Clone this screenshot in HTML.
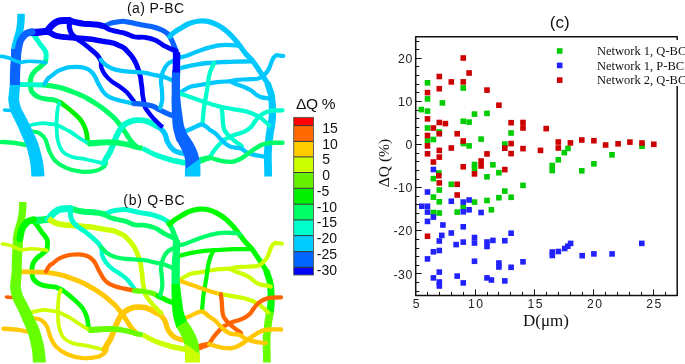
<!DOCTYPE html>
<html><head><meta charset="utf-8"><style>
html,body{margin:0;padding:0;background:#fff;}
svg{display:block;will-change:transform;}
</style></head><body>
<svg width="685" height="364" viewBox="0 0 685 364">
<rect width="685" height="364" fill="#fff"/>
<clipPath id="ca"><rect x="0" y="13.5" width="290" height="163"/></clipPath>
<clipPath id="cb"><rect x="0" y="201.9" width="290" height="160.5"/></clipPath>
<g clip-path="url(#ca)">
<g transform="translate(0,0)" fill="none" stroke-linecap="round" stroke-linejoin="round">
<path d="M4.5,110.0C5.1,110.0 6.8,110.2 8.0,110.3C9.2,110.4 11.3,110.6 12.0,110.7" stroke="#00c8ff" stroke-width="3.6"/>
<path d="M1.5,142.0C2.9,142.1 7.2,142.3 10.0,142.6C12.8,142.8 15.3,143.1 18.0,143.5C20.7,143.9 24.7,144.8 26.0,145.0" stroke="#00ff66" stroke-width="4.5"/>
<path d="M32.0,33.5C32.7,34.2 34.7,36.2 36.0,38.0C37.3,39.8 38.7,42.2 40.0,44.0C41.3,45.8 43.0,47.5 44.0,49.0C45.0,50.5 45.7,51.5 46.0,53.0C46.3,54.5 46.1,56.5 46.0,58.0C45.9,59.5 45.6,61.3 45.5,62.0" stroke="#00ffcc" stroke-width="5"/>
<path d="M45.5,62.0C44.6,62.8 41.6,65.7 40.0,67.0C38.4,68.3 37.3,68.7 36.0,70.0C34.7,71.3 32.9,73.3 32.0,75.0C31.1,76.7 30.8,78.2 30.5,80.0C30.2,81.8 30.2,84.0 30.5,86.0C30.8,88.0 30.7,90.2 32.0,92.0C33.3,93.8 35.8,95.7 38.1,96.9C40.4,98.1 43.2,98.5 46.0,99.0C48.8,99.5 52.4,99.4 55.0,100.1C57.6,100.8 60.3,102.8 61.4,103.3" stroke="#00ff66" stroke-width="5.0"/>
<path d="M60.4,102.6C61.4,103.3 64.2,105.2 66.5,107.0C68.8,108.8 71.8,111.4 74.2,113.6C76.6,115.8 79.2,118.2 80.8,120.2C82.4,122.2 83.1,123.5 84.0,125.5C84.9,127.5 85.8,129.9 86.3,132.0C86.8,134.1 87.1,136.3 87.3,138.0C87.5,139.7 87.5,141.7 87.6,142.4" stroke="#00f000" stroke-width="4.7"/>
<path d="M19.0,84.5C20.8,84.5 25.8,84.5 30.0,84.6C34.2,84.7 42.1,84.9 44.5,85.0" stroke="#00ffcc" stroke-width="4.8"/>
<path d="M44.5,85.0C46.2,85.2 51.8,85.9 55.0,86.5C58.2,87.1 60.5,87.6 63.5,88.5C66.5,89.4 69.8,90.8 73.0,92.0C76.2,93.2 79.4,94.4 82.7,96.0C86.0,97.6 89.8,99.9 93.0,101.8C96.2,103.7 99.1,105.7 101.6,107.5C104.1,109.3 105.9,110.7 108.0,112.5C110.1,114.3 112.5,116.3 114.3,118.1C116.0,119.8 117.1,121.2 118.5,123.0C119.9,124.8 121.4,126.7 122.8,128.7C124.2,130.7 125.6,132.9 127.0,135.0C128.4,137.1 129.5,139.3 131.2,141.4C132.9,143.5 136.1,146.4 137.1,147.4" stroke="#00ff66" stroke-width="5.0"/>
<path d="M59.5,103.0C59.2,103.8 58.2,106.0 57.8,108.0C57.4,110.0 57.2,112.2 57.0,115.0C56.8,117.8 56.5,120.8 56.6,125.0C56.7,129.2 56.7,135.7 57.7,140.0C58.7,144.3 60.1,148.3 62.4,151.1C64.7,153.9 67.7,155.3 71.7,156.7C75.8,158.1 81.4,158.4 86.7,159.5C92.0,160.6 100.7,162.7 103.5,163.3" stroke="#00ffcc" stroke-width="3.8"/>
<path d="M29.6,125.5C30.7,125.2 33.6,124.4 36.0,124.0C38.4,123.6 41.4,123.1 43.7,123.1C46.0,123.1 47.8,123.7 50.0,124.0C52.2,124.3 54.6,124.3 56.8,125.0C59.0,125.7 60.8,126.9 63.0,128.0C65.2,129.1 66.8,129.7 69.8,131.5C72.8,133.3 78.0,137.1 81.0,139.0C84.0,140.9 86.5,142.1 87.6,142.7" stroke="#00ffcc" stroke-width="3.8"/>
<path d="M32.5,131.5C33.8,131.8 37.8,132.0 40.0,133.4C42.2,134.8 44.1,137.0 45.6,139.9C47.1,142.8 47.8,147.7 49.3,151.1C50.8,154.5 52.1,157.6 54.9,160.4C57.7,163.2 61.7,166.0 66.1,167.9C70.4,169.8 76.0,171.2 81.0,171.7C86.0,172.2 92.2,171.5 96.0,170.7C99.8,169.9 101.8,168.3 103.5,167.0C105.2,165.7 105.6,163.7 106.0,163.0" stroke="#00ff66" stroke-width="4.2"/>
<path d="M103.5,163.3C104.0,162.4 105.3,159.9 106.4,158.0C107.5,156.1 108.6,155.0 110.2,151.6C111.8,148.2 114.3,141.2 115.9,137.5C117.5,133.8 118.6,131.7 120.0,129.5C121.4,127.3 122.3,126.0 124.5,124.5C126.7,123.0 130.6,121.3 133.0,120.6C135.4,119.9 137.1,120.2 139.0,120.2C140.9,120.2 142.5,120.2 144.3,120.6C146.1,121.0 148.1,121.7 150.0,122.5C151.9,123.3 154.2,124.8 155.7,125.6C157.2,126.4 158.4,126.9 159.0,127.2" stroke="#00ffcc" stroke-width="5.8"/>
<path d="M159.0,126.5C159.5,127.1 161.0,128.6 162.1,130.0C163.2,131.4 164.6,133.1 165.4,134.9C166.2,136.7 166.2,138.8 167.0,140.7C167.8,142.6 169.1,144.8 170.3,146.5C171.6,148.2 173.0,149.6 174.5,150.6C176.0,151.6 177.9,152.1 179.4,152.6C180.9,153.1 182.8,153.3 183.5,153.5" stroke="#00c8ff" stroke-width="5.2"/>
<path d="M87.77,146.60L88.33,146.56L89.06,146.51L89.93,146.46L90.90,146.39L91.95,146.33L93.04,146.25L94.13,146.18L95.20,146.10L96.26,146.02L97.35,145.92L98.45,145.82L99.57,145.72L100.70,145.62L101.83,145.53L102.96,145.45L104.10,145.39L105.30,145.34L106.54,145.29L107.81,145.25L109.08,145.22L110.34,145.21L111.56,145.21L112.73,145.22L113.82,145.26L114.85,145.33L115.84,145.41L116.81,145.52L117.76,145.64L118.69,145.78L119.63,145.92L120.58,146.07L121.52,146.23L122.46,146.38L123.38,146.54L124.29,146.70L125.18,146.87L126.06,147.04L126.92,147.22L127.74,147.41L128.53,147.59L129.26,147.78L129.96,147.98L130.66,148.19L131.36,148.42L132.08,148.65L132.81,148.89L133.57,149.11L134.35,149.32L135.14,149.50L135.94,149.66L136.73,149.82L137.50,149.95L138.24,150.08L138.91,150.19L139.51,150.29L140.03,150.38L140.48,150.46L140.87,150.53L141.22,150.59L141.51,150.64L141.75,150.68L141.96,150.71L142.12,150.74L142.26,150.76L143.14,145.84L142.98,145.81L142.81,145.78L142.61,145.74L142.38,145.70L142.11,145.65L141.79,145.58L141.42,145.51L140.97,145.42L140.43,145.31L139.82,145.19L139.15,145.06L138.45,144.92L137.73,144.77L137.01,144.62L136.31,144.45L135.65,144.28L135.03,144.10L134.40,143.90L133.74,143.67L133.05,143.43L132.32,143.17L131.55,142.91L130.73,142.65L129.87,142.41L129.00,142.18L128.12,141.97L127.21,141.75L126.29,141.54L125.35,141.34L124.40,141.14L123.44,140.95L122.48,140.77L121.53,140.60L120.57,140.42L119.60,140.24L118.59,140.07L117.55,139.91L116.47,139.76L115.35,139.64L114.18,139.54L112.95,139.46L111.68,139.41L110.37,139.38L109.05,139.36L107.72,139.36L106.41,139.37L105.13,139.39L103.90,139.41L102.67,139.44L101.46,139.49L100.27,139.56L99.10,139.63L97.97,139.71L96.88,139.78L95.82,139.84L94.80,139.90L93.77,139.95L92.69,139.99L91.61,140.04L90.57,140.08L89.60,140.12L88.73,140.15L87.99,140.18L87.43,140.20Z" fill="#00ff66" stroke="none"/>
<path d="M141.49,150.37L141.66,150.47L141.85,150.60L142.11,150.76L142.43,150.96L142.83,151.20L143.31,151.47L143.89,151.79L144.57,152.16L145.36,152.58L146.27,153.08L147.30,153.64L148.42,154.24L149.61,154.86L150.83,155.48L152.07,156.08L153.30,156.64L154.53,157.16L155.78,157.67L157.05,158.16L158.34,158.64L159.64,159.11L160.93,159.57L162.22,160.01L163.49,160.43L164.74,160.84L165.98,161.24L167.22,161.62L168.46,161.99L169.71,162.35L170.99,162.71L172.31,163.05L173.67,163.40L175.17,163.75L176.82,164.11L178.54,164.47L180.25,164.82L181.87,165.14L183.33,165.43L184.55,165.67L185.46,165.85L186.54,160.15L185.62,159.99L184.38,159.77L182.92,159.52L181.30,159.23L179.62,158.93L177.94,158.62L176.35,158.30L174.93,158.00L173.63,157.70L172.37,157.40L171.14,157.09L169.93,156.77L168.73,156.44L167.54,156.10L166.33,155.74L165.11,155.37L163.86,154.98L162.60,154.58L161.34,154.17L160.08,153.74L158.84,153.31L157.62,152.87L156.44,152.42L155.30,151.96L154.17,151.48L153.01,150.95L151.85,150.39L150.70,149.82L149.60,149.26L148.57,148.74L147.64,148.25L146.83,147.84L146.18,147.51L145.66,147.23L145.23,147.00L144.89,146.81L144.61,146.64L144.36,146.49L144.13,146.35L143.91,146.23Z" fill="#00ffcc" stroke="none"/>
<path d="M31.0,32.3C32.5,32.3 37.3,32.3 40.0,32.1C42.7,31.9 45.8,31.4 47.0,31.3" stroke="#0000fa" stroke-width="7.2"/>
<path d="M47.0,31.3C47.8,30.3 50.2,27.0 52.0,25.3C53.8,23.6 55.7,22.1 58.0,21.3C60.3,20.5 64.0,20.6 66.0,20.5C68.0,20.4 69.3,20.8 70.0,20.9" stroke="#0000fa" stroke-width="7.0"/>
<path d="M70.0,20.7C71.1,21.0 74.2,22.0 76.5,22.5C78.8,23.0 81.5,23.4 83.8,23.7C86.0,23.9 88.0,23.9 90.0,24.0C92.0,24.1 93.8,24.4 95.5,24.6C97.2,24.8 98.5,25.0 100.0,25.3C101.5,25.6 103.5,26.1 104.2,26.3" stroke="#0000fa" stroke-width="6"/>
<path d="M104.2,26.3C105.2,25.8 108.0,24.2 110.0,23.5C112.0,22.8 113.5,22.6 116.0,22.2C118.5,21.8 121.5,21.2 124.7,21.4C127.9,21.6 132.1,22.9 135.0,23.5C137.9,24.1 139.5,24.4 142.4,25.0C145.3,25.6 149.4,26.1 152.3,26.8C155.2,27.5 157.5,28.3 159.8,29.2C162.1,30.1 164.2,31.2 165.9,32.3C167.6,33.4 169.1,35.4 169.7,36.0" stroke="#0a64ff" stroke-width="5"/>
<path d="M168.2,34.3C168.6,34.9 169.9,36.9 170.6,38.0C171.2,39.1 171.4,39.5 172.1,41.0C172.8,42.5 173.9,45.4 174.6,47.2C175.3,49.1 176.2,51.3 176.5,52.1" stroke="#0a64ff" stroke-width="5.2"/>
<path d="M104.2,26.3C104.9,26.8 106.7,28.3 108.2,29.0C109.7,29.7 111.2,30.1 113.0,30.6C114.8,31.1 116.9,31.5 119.0,32.0C121.1,32.5 123.1,32.8 125.8,33.6C128.5,34.4 131.8,36.4 135.0,37.0C138.2,37.6 141.7,36.9 145.0,37.4C148.3,37.9 152.5,39.1 155.0,40.0C157.5,40.9 158.3,42.0 160.0,43.0C161.7,44.0 163.3,45.3 165.0,46.2C166.7,47.1 168.2,47.7 170.0,48.5C171.8,49.3 175.0,50.6 176.0,51.0" stroke="#0000fa" stroke-width="4.8"/>
<path d="M45.44,33.36L46.00,33.70L46.76,34.18L47.71,34.78L48.77,35.44L49.92,36.12L51.11,36.80L52.31,37.42L53.48,37.94L54.61,38.34L55.69,38.66L56.75,38.92L57.78,39.12L58.78,39.29L59.74,39.43L60.67,39.56L61.59,39.69L62.55,39.82L63.52,39.92L64.46,39.99L65.38,40.06L66.29,40.11L67.18,40.16L68.07,40.21L68.98,40.27L69.93,40.34L70.91,40.41L71.91,40.49L72.91,40.56L73.91,40.63L74.89,40.70L75.84,40.76L76.77,40.83L77.65,40.90L78.51,40.97L79.35,41.04L80.18,41.12L81.01,41.19L81.84,41.26L82.69,41.33L83.57,41.40L84.47,41.47L85.37,41.53L86.27,41.58L87.16,41.64L88.05,41.70L88.92,41.77L89.79,41.85L90.64,41.95L91.50,42.07L92.38,42.20L93.26,42.35L94.17,42.52L95.09,42.68L96.02,42.86L96.97,43.03L97.93,43.20L98.88,43.36L99.84,43.52L100.80,43.68L101.77,43.84L102.73,43.99L103.68,44.15L104.62,44.31L105.56,44.46L106.51,44.61L107.44,44.74L108.34,44.86L109.20,44.97L110.03,45.09L110.81,45.23L111.56,45.38L112.26,45.56L112.97,45.78L113.69,46.04L114.42,46.33L115.16,46.64L115.91,46.98L116.65,47.32L117.38,47.66L118.11,48.00L118.82,48.30L119.48,48.59L120.08,48.84L120.64,49.09L121.15,49.33L121.61,49.57L122.05,49.82L122.46,50.10L122.88,50.42L123.31,50.80L123.75,51.22L124.20,51.68L124.66,52.18L125.14,52.69L125.62,53.23L126.11,53.75L126.59,54.25L127.04,54.73L127.47,55.20L127.90,55.66L128.30,56.11L128.70,56.58L129.08,57.04L129.46,57.53L129.85,58.05L130.23,58.59L130.61,59.14L130.99,59.70L131.36,60.27L131.71,60.85L132.06,61.43L132.39,62.01L132.71,62.59L133.01,63.18L133.30,63.77L133.59,64.38L133.87,64.99L134.14,65.62L134.42,66.27L134.68,66.92L134.95,67.58L135.20,68.27L135.46,68.98L135.71,69.69L135.96,70.42L136.20,71.14L136.43,71.85L136.66,72.55L136.88,73.23L137.09,73.88L137.30,74.51L137.49,75.12L137.67,75.71L137.83,76.29L137.98,76.88L138.11,77.48L138.23,78.08L138.32,78.72L138.41,79.39L138.49,80.09L138.56,80.81L138.64,81.54L138.72,82.28L138.82,83.02L138.92,83.73L139.03,84.41L139.14,85.07L139.25,85.72L139.36,86.35L139.46,86.98L139.55,87.62L139.64,88.27L139.71,88.94L139.77,89.63L139.82,90.36L139.88,91.11L139.93,91.89L140.00,92.68L140.07,93.48L140.17,94.28L140.27,95.06L140.39,95.82L140.51,96.58L140.64,97.33L140.77,98.09L140.91,98.85L141.06,99.63L141.22,100.42L141.37,101.23L141.51,102.09L141.66,103.00L141.83,103.95L142.02,104.93L142.25,105.91L142.53,106.89L142.88,107.85L143.28,108.74L143.73,109.56L144.19,110.31L144.68,111.02L145.18,111.69L145.68,112.34L146.19,112.98L146.70,113.66L147.26,114.39L147.85,115.14L148.46,115.92L149.10,116.70L149.76,117.50L150.44,118.30L151.14,119.10L151.87,119.89L152.63,120.71L153.46,121.56L154.31,122.43L155.18,123.28L156.02,124.10L156.83,124.88L157.57,125.58L158.22,126.19L158.82,126.73L159.38,127.20L159.88,127.61L160.33,127.95L160.72,128.24L161.05,128.48L161.29,128.65L161.49,128.80L164.11,125.40L163.87,125.21L163.58,125.00L163.28,124.77L162.94,124.52L162.57,124.23L162.15,123.89L161.69,123.49L161.18,123.01L160.56,122.43L159.85,121.74L159.08,120.98L158.26,120.17L157.43,119.33L156.62,118.50L155.84,117.68L155.13,116.91L154.47,116.16L153.82,115.40L153.18,114.64L152.56,113.88L151.96,113.13L151.39,112.39L150.83,111.66L150.30,110.94L149.77,110.24L149.26,109.58L148.80,108.97L148.38,108.39L148.01,107.84L147.67,107.29L147.38,106.73L147.12,106.15L146.89,105.50L146.69,104.78L146.52,103.98L146.36,103.13L146.21,102.25L146.07,101.35L145.93,100.45L145.78,99.58L145.63,98.77L145.49,98.01L145.36,97.27L145.24,96.55L145.13,95.84L145.02,95.13L144.92,94.42L144.83,93.72L144.76,93.01L144.70,92.29L144.64,91.55L144.60,90.80L144.55,90.04L144.50,89.27L144.44,88.50L144.36,87.73L144.28,86.99L144.18,86.29L144.08,85.61L143.97,84.94L143.87,84.30L143.77,83.66L143.67,83.02L143.58,82.38L143.51,81.73L143.44,81.04L143.37,80.33L143.30,79.60L143.23,78.84L143.14,78.08L143.02,77.30L142.89,76.52L142.73,75.78L142.56,75.06L142.37,74.37L142.17,73.70L141.97,73.03L141.77,72.38L141.56,71.72L141.34,71.05L141.12,70.35L140.89,69.62L140.65,68.87L140.40,68.11L140.14,67.34L139.88,66.57L139.60,65.82L139.32,65.08L139.03,64.37L138.75,63.67L138.45,62.98L138.15,62.30L137.83,61.61L137.51,60.94L137.17,60.26L136.81,59.59L136.44,58.92L136.05,58.25L135.66,57.60L135.25,56.95L134.83,56.31L134.41,55.68L133.97,55.07L133.54,54.47L133.09,53.88L132.63,53.31L132.18,52.77L131.72,52.24L131.26,51.73L130.80,51.23L130.34,50.74L129.89,50.25L129.43,49.75L128.97,49.23L128.48,48.68L127.96,48.12L127.41,47.55L126.83,46.98L126.20,46.42L125.54,45.90L124.85,45.43L124.17,45.02L123.50,44.66L122.84,44.34L122.19,44.05L121.56,43.77L120.93,43.49L120.29,43.20L119.61,42.89L118.89,42.54L118.12,42.18L117.31,41.81L116.47,41.44L115.59,41.08L114.68,40.74L113.74,40.44L112.78,40.19L111.83,39.98L110.89,39.81L109.97,39.67L109.07,39.54L108.18,39.41L107.31,39.28L106.44,39.14L105.53,38.98L104.59,38.81L103.64,38.65L102.68,38.48L101.72,38.31L100.76,38.14L99.81,37.97L98.87,37.80L97.96,37.64L97.04,37.46L96.11,37.28L95.18,37.10L94.24,36.92L93.29,36.75L92.33,36.59L91.36,36.45L90.39,36.33L89.43,36.23L88.49,36.14L87.56,36.07L86.65,36.00L85.76,35.94L84.89,35.87L84.03,35.80L83.18,35.72L82.35,35.64L81.52,35.56L80.69,35.48L79.86,35.41L79.01,35.33L78.14,35.25L77.23,35.17L76.29,35.09L75.33,35.00L74.34,34.92L73.34,34.84L72.34,34.76L71.35,34.69L70.38,34.61L69.42,34.53L68.47,34.45L67.54,34.39L66.64,34.33L65.77,34.27L64.92,34.20L64.08,34.12L63.26,34.03L62.41,33.91L61.50,33.77L60.60,33.64L59.72,33.50L58.87,33.35L58.04,33.18L57.24,32.98L56.47,32.74L55.72,32.46L54.91,32.09L53.96,31.59L52.94,31.00L51.90,30.36L50.90,29.73L49.98,29.13L49.18,28.62L48.56,28.24Z" fill="#0000fa" stroke="none"/>
<path d="M69.4,19.5C69.4,20.8 69.1,25.1 69.4,27.4C69.8,29.7 70.5,31.8 71.5,33.5C72.5,35.2 74.8,37.0 75.5,37.7" stroke="#0000fa" stroke-width="5.2"/>
<path d="M75.0,37.7C76.5,38.7 80.9,41.4 83.8,43.6C86.7,45.8 90.2,48.8 92.6,50.9C95.0,53.0 96.5,54.1 98.0,56.0C99.5,57.9 101.0,61.0 101.6,62.0" stroke="#0000fa" stroke-width="4.8"/>
<path d="M101.0,61.0C101.1,62.1 100.8,65.3 101.4,67.6C102.1,69.8 103.2,72.2 104.9,74.5C106.6,76.8 109.2,79.4 111.7,81.4C114.2,83.5 117.5,85.0 120.0,86.8C122.5,88.6 124.8,90.2 126.8,92.3C128.8,94.4 130.9,97.4 132.3,99.2C133.7,101.0 134.6,102.6 135.1,103.3" stroke="#0000fa" stroke-width="4.4"/>
<path d="M100.7,59.8C101.6,60.7 103.9,63.7 106.2,65.3C108.5,66.9 111.3,68.4 114.5,69.4C117.7,70.4 121.6,70.9 125.5,71.4C129.4,71.9 134.6,71.9 138.0,72.2C141.4,72.5 143.4,72.6 146.0,73.0C148.6,73.4 150.9,74.2 153.8,74.8C156.7,75.4 160.4,75.8 163.5,76.8C166.6,77.8 171.0,79.9 172.5,80.5" stroke="#00c8ff" stroke-width="4.3"/>
<path d="M44.5,84.0C45.1,83.1 46.8,79.9 48.0,78.5C49.2,77.1 50.4,76.8 51.9,75.6C53.4,74.4 55.1,72.6 57.0,71.5C58.9,70.4 61.3,69.5 63.5,68.8C65.7,68.1 67.8,67.5 70.0,67.2C72.2,66.9 74.7,66.8 76.9,66.8C79.1,66.8 81.1,67.0 83.0,67.5C84.9,68.0 86.9,68.6 88.5,69.5C90.1,70.4 91.4,71.8 92.5,73.0C93.6,74.2 94.4,75.5 95.2,77.0C96.0,78.5 96.7,80.4 97.5,82.0C98.3,83.6 99.1,84.9 100.0,86.5C100.9,88.1 101.8,90.0 103.0,91.5C104.2,93.0 105.1,94.2 107.0,95.5C108.9,96.8 111.5,98.0 114.3,99.0C117.1,100.0 120.8,100.8 124.0,101.5C127.2,102.2 131.2,103.0 133.4,103.3C135.6,103.6 136.4,103.5 137.0,103.5" stroke="#00c8ff" stroke-width="4.3"/>
<path d="M134.0,103.6C135.4,103.7 139.3,103.8 142.4,104.2C145.5,104.6 149.7,105.3 152.3,106.1C154.9,106.9 157.1,108.5 158.0,109.0" stroke="#0a64ff" stroke-width="5.2"/>
<path d="M158.0,109.0C159.3,109.7 163.6,111.8 165.9,112.9C168.2,114.0 170.2,114.7 172.0,115.4C173.8,116.1 176.2,116.7 177.0,117.0" stroke="#0a64ff" stroke-width="5.2"/>
<path d="M169.7,36.5C170.4,35.8 172.3,33.8 174.0,32.5C175.7,31.2 177.6,30.1 180.1,28.6C182.6,27.1 185.9,24.8 189.2,23.5C192.5,22.2 196.5,21.3 199.8,21.0C203.1,20.7 205.9,20.9 208.9,21.6C211.9,22.3 215.0,23.7 218.0,25.3C221.0,26.9 224.2,29.1 227.0,31.4C229.8,33.7 232.3,36.6 234.6,39.2C236.9,41.8 238.7,44.3 240.6,46.8C242.5,49.3 244.0,51.6 246.0,54.0C248.0,56.4 250.4,58.3 252.7,61.1C255.0,63.9 257.6,68.0 259.6,71.0C261.7,74.0 263.6,77.1 265.0,79.3C266.4,81.5 267.5,83.2 268.0,84.0" stroke="#00c8ff" stroke-width="5.2"/>
<path d="M264.46,84.00L264.59,84.42L264.77,84.98L264.97,85.63L265.20,86.36L265.44,87.14L265.69,87.94L265.93,88.73L266.17,89.52L266.43,90.32L266.69,91.10L266.95,91.84L267.20,92.56L267.42,93.27L267.62,94.00L267.80,94.77L267.96,95.61L268.10,96.60L268.24,97.74L268.35,98.98L268.46,100.28L268.55,101.60L268.63,102.89L268.70,104.12L268.76,105.24L268.81,106.24L268.85,107.13L268.88,107.95L268.89,108.73L268.90,109.49L268.89,110.26L268.87,111.06L268.85,111.92L268.81,112.84L268.76,113.78L268.70,114.74L268.63,115.71L268.55,116.69L268.46,117.67L268.36,118.64L268.25,119.59L268.11,120.58L267.95,121.65L267.76,122.77L267.57,123.90L267.38,124.96L267.21,125.93L267.06,126.76L266.95,127.39L274.65,128.61L274.74,128.00L274.86,127.19L275.00,126.21L275.17,125.10L275.33,123.93L275.49,122.72L275.64,121.53L275.75,120.41L275.84,119.35L275.92,118.29L275.99,117.22L276.04,116.17L276.09,115.12L276.12,114.08L276.14,113.06L276.15,112.08L276.15,111.14L276.14,110.24L276.13,109.38L276.09,108.52L276.05,107.65L275.99,106.75L275.92,105.79L275.84,104.76L275.74,103.62L275.63,102.36L275.51,101.03L275.37,99.66L275.21,98.27L275.04,96.91L274.85,95.61L274.64,94.39L274.39,93.26L274.11,92.21L273.81,91.26L273.50,90.38L273.21,89.58L272.92,88.85L272.67,88.16L272.43,87.48L272.17,86.72L271.90,85.92L271.62,85.11L271.35,84.33L271.10,83.60L270.87,82.95L270.68,82.41L270.54,82.00Z" fill="#00c8ff" stroke="none"/>
<path d="M271.1,124.5C271.0,125.2 270.9,127.1 270.6,129.0C270.3,130.9 269.8,133.6 269.5,136.0C269.2,138.4 268.9,141.2 268.6,143.5C268.4,145.8 268.1,147.8 268.0,150.0C267.9,152.2 267.8,154.3 267.8,157.0C267.8,159.7 267.9,162.7 268.0,166.0C268.1,169.3 268.2,175.2 268.2,177.0" stroke="#00c8ff" stroke-width="7.8" stroke-linecap="butt"/>
<path d="M178.0,57.5C179.2,57.3 182.1,57.2 185.0,56.3C187.9,55.4 192.3,53.4 195.3,52.3C198.3,51.2 200.5,50.4 203.0,49.5C205.5,48.6 208.4,47.8 210.4,47.2C212.4,46.7 213.7,46.5 215.0,46.2C216.3,45.9 216.2,45.7 218.0,45.5C219.8,45.3 222.5,44.8 225.5,44.8C228.5,44.8 233.5,45.0 236.1,45.3C238.7,45.6 240.2,46.3 241.0,46.5" stroke="#00c8ff" stroke-width="4.3"/>
<path d="M178.0,68.8C179.2,68.5 182.7,67.4 185.0,66.8C187.3,66.2 189.5,65.8 192.0,65.3C194.5,64.8 197.3,64.4 200.0,64.0C202.7,63.6 205.5,63.2 208.0,63.0C210.5,62.8 212.2,62.8 215.0,62.6C217.8,62.4 221.6,62.2 225.0,62.0C228.4,61.8 231.1,61.7 235.3,61.6C239.5,61.5 247.1,61.5 250.0,61.4C252.9,61.3 252.5,61.2 253.0,61.2" stroke="#00c8ff" stroke-width="4.3"/>
<path d="M283.3,56.0C282.7,55.9 280.6,55.7 279.5,55.6C278.4,55.5 277.5,54.8 276.5,55.2C275.5,55.6 274.4,56.6 273.5,57.8C272.6,59.0 272.0,60.8 271.3,62.5C270.6,64.2 270.1,66.3 269.3,68.0C268.5,69.7 267.8,71.0 266.5,72.5C265.2,74.0 263.3,76.1 261.8,77.1C260.3,78.1 259.8,78.3 257.4,78.7C255.0,79.1 251.0,79.1 247.5,79.3C244.0,79.5 239.2,79.5 236.5,79.8C233.8,80.1 233.8,80.9 231.0,81.2C228.2,81.5 223.3,81.5 220.0,81.8C216.7,82.1 214.3,82.6 211.0,83.1C207.7,83.6 203.3,84.4 200.0,85.0C196.7,85.6 193.5,85.8 191.0,86.5C188.5,87.2 186.8,88.5 185.0,89.5C183.2,90.5 180.8,92.2 180.0,92.7" stroke="#00c8ff" stroke-width="4.2"/>
<path d="M231.0,81.5C231.9,82.0 234.3,83.3 236.5,84.2C238.7,85.1 241.8,86.0 244.2,87.0C246.6,88.0 248.8,89.0 250.8,90.3C252.8,91.6 254.5,93.5 256.3,94.7C258.1,95.9 259.8,96.8 261.8,97.4C263.8,98.0 266.7,98.2 268.4,98.5C270.1,98.8 271.4,99.3 272.0,99.5" stroke="#00c8ff" stroke-width="4.3"/>
<path d="M214.0,63.0C213.4,64.3 211.4,68.3 210.5,71.0C209.6,73.7 209.0,76.2 208.5,79.0C208.0,81.8 207.7,85.2 207.3,88.0C206.9,90.8 206.5,93.3 206.0,96.0C205.5,98.7 204.9,101.3 204.5,104.0C204.1,106.7 203.8,108.6 203.5,112.0C203.2,115.4 202.6,122.4 202.4,124.5" stroke="#00ffcc" stroke-width="4.3"/>
<path d="M176.0,59.5C174.6,60.2 169.9,62.0 167.7,64.0C165.5,66.0 164.0,69.0 162.9,71.7C161.8,74.4 161.2,77.4 161.0,80.4C160.8,83.5 161.7,86.8 161.9,90.0C162.1,93.2 162.5,96.9 162.2,99.9C161.9,102.9 160.6,106.6 160.3,107.9" stroke="#00c8ff" stroke-width="4.3"/>
<path d="M180.0,93.5C181.7,94.1 186.4,95.8 190.0,97.0C193.6,98.2 198.1,99.9 201.4,101.0C204.7,102.1 206.8,102.8 210.0,103.8C213.2,104.8 218.7,106.3 220.4,106.8" stroke="#00ffcc" stroke-width="4.2"/>
<path d="M220.4,106.8C222.0,107.1 227.2,108.0 230.0,108.5C232.8,109.0 234.9,109.3 237.4,109.8C239.9,110.2 242.5,110.6 245.0,111.2C247.5,111.8 249.6,112.5 252.2,113.5C254.8,114.5 258.2,116.2 260.3,117.5C262.4,118.8 263.5,120.2 265.0,121.5C266.5,122.8 268.4,124.8 269.1,125.5" stroke="#00ffcc" stroke-width="4.3"/>
<path d="M221.5,107.0C221.7,108.2 222.2,111.8 222.4,114.0C222.6,116.2 222.7,118.2 222.8,120.0C222.9,121.8 222.9,123.3 223.2,125.0C223.5,126.7 223.7,128.5 224.4,130.0C225.1,131.5 226.1,132.7 227.3,134.1C228.5,135.5 229.9,136.8 231.4,138.2C232.9,139.6 235.0,141.2 236.4,142.3C237.8,143.4 239.1,144.1 240.0,144.8C240.9,145.5 241.7,146.2 242.0,146.5" stroke="#00ffcc" stroke-width="4.3"/>
<path d="M254.3,122.3C254.9,121.5 256.6,118.9 258.0,117.5C259.4,116.1 261.1,114.9 262.8,113.9C264.5,112.9 266.2,112.1 268.0,111.5C269.8,110.9 271.0,110.7 273.4,110.5C275.8,110.3 281.0,110.3 282.5,110.3" stroke="#00ffcc" stroke-width="4.3"/>
<path d="M209.8,157.5C210.5,156.4 212.3,152.9 214.0,150.7C215.7,148.5 218.0,145.9 219.7,144.1C221.3,142.3 222.8,140.9 223.9,140.0C225.0,139.1 225.1,139.3 226.5,138.6C227.9,137.9 230.1,136.6 232.3,135.7C234.6,134.8 237.8,134.0 240.0,133.2C242.2,132.4 244.0,131.8 245.8,130.8C247.6,129.8 249.6,128.4 251.0,127.0C252.4,125.6 253.8,123.1 254.3,122.3" stroke="#00ffcc" stroke-width="4.3"/>
<path d="M186.6,130.8C187.8,130.2 191.5,128.6 194.0,127.5C196.5,126.5 199.4,124.7 201.4,124.5C203.4,124.3 204.6,125.6 206.0,126.5C207.4,127.4 208.5,128.8 210.0,129.9C211.5,131.0 213.3,131.8 215.0,133.2C216.7,134.6 218.3,136.5 219.9,138.2C221.5,139.8 223.2,141.7 224.8,143.1C226.5,144.5 228.2,145.7 229.8,146.4C231.5,147.2 232.8,147.3 234.7,147.6C236.5,147.9 239.0,147.7 240.9,148.4C242.8,149.1 244.0,150.9 245.9,151.9C247.8,152.9 250.4,153.8 252.5,154.4C254.6,155.0 256.3,155.3 258.2,155.6C260.1,155.9 262.5,156.2 264.0,156.4C265.5,156.6 266.5,156.5 267.0,156.5" stroke="#00c8ff" stroke-width="4.3"/>
<path d="M199.52,164.24L200.02,164.05L200.69,163.78L201.48,163.47L202.36,163.13L203.26,162.77L204.16,162.42L205.00,162.10L205.73,161.83L206.40,161.58L207.09,161.34L207.77,161.10L208.44,160.88L209.06,160.68L209.61,160.49L210.09,160.34L210.45,160.22L209.15,155.18L208.78,155.25L208.30,155.34L207.72,155.45L207.06,155.57L206.35,155.70L205.60,155.85L204.84,156.01L204.07,156.17L203.26,156.36L202.35,156.57L201.39,156.80L200.43,157.04L199.51,157.26L198.68,157.46L197.99,157.63L197.48,157.76Z" fill="#00ff66" stroke="none"/>
<path d="M209.8,157.7C210.8,158.0 213.2,158.8 215.6,159.4C217.9,160.0 221.2,161.0 223.9,161.4C226.7,161.8 230.1,161.9 232.1,161.8C234.1,161.7 234.6,161.3 236.0,160.8C237.4,160.3 238.8,159.7 240.5,158.8C242.2,157.9 244.2,156.4 245.9,155.2C247.6,154.0 249.2,152.7 250.8,151.5C252.5,150.3 254.2,149.2 255.8,148.2C257.4,147.2 259.1,146.1 260.7,145.3C262.3,144.5 263.8,144.0 265.7,143.6C267.6,143.2 269.2,142.9 272.0,142.8C274.8,142.7 280.8,142.8 282.5,142.8" stroke="#00ff66" stroke-width="4.4"/>
<path d="M21.0,13.5C21.0,14.6 21.2,17.1 21.0,20.0C20.8,22.9 20.4,27.3 19.6,31.0C18.9,34.7 17.2,39.2 16.5,42.0C15.8,44.8 15.4,45.8 15.2,47.5C14.9,49.2 15.0,51.2 15.0,52.0" stroke="#00c8ff" stroke-width="7.5" stroke-linecap="butt"/>
<path d="M9.87,84.00L9.78,84.85L9.65,86.01L9.49,87.40L9.32,88.93L9.14,90.50L8.98,92.02L8.83,93.40L8.72,94.50L8.63,95.21L8.55,95.69L8.46,96.17L8.35,96.80L8.25,97.64L8.22,98.60L8.26,99.62L8.36,100.67L8.50,101.77L8.66,102.97L8.87,104.27L9.12,105.68L9.43,107.17L9.81,108.72L10.27,110.32L10.83,111.97L11.49,113.64L12.24,115.31L13.03,116.96L13.85,118.58L14.67,120.16L15.46,121.68L16.18,123.13L16.84,124.50L17.46,125.87L18.07,127.24L18.67,128.60L19.25,129.95L19.84,131.31L20.42,132.67L21.01,134.04L21.61,135.44L22.24,136.87L22.88,138.29L23.51,139.67L24.12,141.03L24.70,142.35L25.24,143.63L25.73,144.87L26.17,146.09L26.58,147.32L26.96,148.59L27.32,149.88L27.66,151.18L27.99,152.50L28.30,153.83L28.61,155.16L28.91,156.47L29.19,157.74L29.46,158.94L29.70,160.09L29.92,161.22L30.12,162.34L30.31,163.47L30.48,164.64L30.64,165.84L30.78,167.19L30.90,168.73L31.02,170.40L31.12,172.10L31.21,173.74L31.29,175.24L31.36,176.53L31.42,177.49L44.58,176.51L44.50,175.59L44.40,174.35L44.27,172.84L44.13,171.15L43.96,169.36L43.78,167.55L43.58,165.79L43.36,164.16L43.13,162.68L42.88,161.30L42.62,159.96L42.34,158.66L42.05,157.38L41.75,156.11L41.43,154.83L41.09,153.53L40.75,152.19L40.39,150.81L40.00,149.39L39.60,147.94L39.16,146.46L38.69,144.96L38.18,143.44L37.63,141.91L37.02,140.38L36.37,138.87L35.70,137.40L35.02,135.97L34.34,134.58L33.67,133.21L33.02,131.88L32.39,130.56L31.77,129.23L31.14,127.88L30.52,126.53L29.88,125.17L29.24,123.80L28.57,122.40L27.89,120.98L27.16,119.50L26.36,117.94L25.51,116.37L24.65,114.81L23.81,113.30L23.01,111.84L22.29,110.45L21.67,109.18L21.17,108.03L20.76,106.92L20.39,105.76L20.07,104.60L19.79,103.44L19.55,102.32L19.35,101.24L19.18,100.22L19.04,99.33L18.96,98.72L18.94,98.45L18.93,98.36L18.94,98.27L18.99,97.95L19.08,97.35L19.19,96.50L19.28,95.50L19.37,94.35L19.47,93.01L19.59,91.50L19.72,89.94L19.84,88.42L19.96,87.02L20.06,85.85L20.13,85.00Z" fill="#00c8ff" stroke="none"/>
<path d="M16.2,49.0C16.2,50.5 16.1,55.2 16.0,58.0C15.9,60.8 15.6,63.0 15.4,66.0C15.2,69.0 15.1,72.8 15.0,76.0C14.9,79.2 15.0,83.5 15.0,85.0" stroke="#0a64ff" stroke-width="10.2" stroke-linecap="butt"/>
<path d="M32.0,31.8C31.2,32.0 28.8,32.4 27.5,33.0C26.2,33.6 25.5,34.1 24.3,35.4C23.1,36.7 21.3,38.9 20.4,40.9C19.5,42.9 19.1,45.8 18.7,47.5C18.3,49.2 18.3,50.4 18.2,51.0" stroke="#0a64ff" stroke-width="7.0"/>
<path d="M0.5,56.3C1.2,56.4 3.6,56.7 5.0,57.0C6.4,57.3 7.5,57.5 9.0,58.0C10.5,58.5 12.2,59.5 14.0,60.2C15.8,60.9 17.9,62.1 19.7,62.3C21.5,62.5 23.2,61.8 25.0,61.6C26.8,61.4 27.9,61.2 30.3,61.2C32.7,61.2 36.8,61.6 39.3,61.8C41.8,62.0 44.5,62.5 45.5,62.6" stroke="#00c8ff" stroke-width="3.6"/>
<path d="M171.60,96.08L171.59,96.34L171.58,96.68L171.57,97.10L171.55,97.60L171.54,98.17L171.53,98.80L171.53,99.49L171.53,100.23L171.54,101.02L171.55,101.90L171.57,102.85L171.59,103.84L171.61,104.86L171.64,105.88L171.67,106.90L171.71,107.88L171.74,108.83L171.78,109.75L171.83,110.66L171.87,111.57L171.92,112.49L171.97,113.44L172.02,114.44L172.08,115.48L172.13,116.61L172.18,117.83L172.23,119.14L172.29,120.50L172.35,121.89L172.44,123.26L172.55,124.61L172.68,125.90L172.85,127.08L173.04,128.19L173.24,129.22L173.46,130.19L173.68,131.11L173.90,131.99L174.12,132.84L174.35,133.74L174.63,134.77L174.95,135.88L175.28,137.01L175.61,138.11L175.92,139.14L176.20,140.06L176.43,140.81L176.60,141.36L188.40,137.24L188.17,136.66L187.86,135.91L187.51,135.03L187.12,134.07L186.72,133.06L186.32,132.07L185.96,131.13L185.65,130.26L185.35,129.42L185.06,128.61L184.80,127.86L184.56,127.15L184.33,126.44L184.12,125.72L183.91,124.95L183.72,124.10L183.52,123.14L183.34,122.04L183.15,120.83L182.98,119.56L182.81,118.26L182.64,116.96L182.48,115.70L182.32,114.52L182.17,113.45L182.03,112.46L181.89,111.52L181.77,110.62L181.64,109.75L181.53,108.88L181.41,108.01L181.29,107.12L181.18,106.18L181.06,105.20L180.95,104.21L180.84,103.23L180.73,102.27L180.63,101.36L180.55,100.52L180.47,99.77L180.41,99.12L180.36,98.52L180.32,97.97L180.29,97.46L180.26,97.00L180.24,96.59L180.22,96.23L180.20,95.92Z" fill="#0a64ff" stroke="none"/>
<path d="M176.75,140.89L177.01,141.33L177.37,141.92L177.78,142.60L178.23,143.35L178.69,144.13L179.15,144.91L179.57,145.64L179.94,146.31L180.29,146.96L180.64,147.62L180.98,148.27L181.31,148.92L181.63,149.55L181.93,150.18L182.21,150.79L182.49,151.42L182.76,152.05L183.03,152.69L183.28,153.29L183.51,153.88L183.72,154.45L183.91,155.01L184.09,155.56L184.25,156.12L184.40,156.70L184.55,157.31L184.69,157.93L184.81,158.55L184.93,159.19L185.03,159.81L185.11,160.44L185.18,161.03L185.23,161.60L185.27,162.17L185.29,162.76L185.30,163.39L185.31,164.06L185.31,164.75L185.31,165.48L185.31,166.20L185.30,166.92L185.28,167.68L185.25,168.50L185.21,169.32L185.18,170.11L185.15,170.84L185.12,171.47L185.10,171.96L200.10,172.04L200.09,171.60L200.07,171.00L200.06,170.26L200.04,169.43L200.01,168.53L199.98,167.60L199.94,166.67L199.89,165.80L199.84,165.02L199.79,164.25L199.74,163.44L199.67,162.61L199.59,161.74L199.49,160.83L199.37,159.90L199.22,158.97L199.05,158.05L198.86,157.16L198.65,156.27L198.43,155.38L198.18,154.50L197.92,153.62L197.65,152.75L197.35,151.88L197.03,151.02L196.69,150.17L196.35,149.35L195.99,148.55L195.63,147.79L195.26,147.04L194.89,146.31L194.51,145.58L194.11,144.83L193.70,144.07L193.27,143.32L192.84,142.58L192.40,141.85L191.96,141.13L191.52,140.42L191.06,139.69L190.55,138.91L190.01,138.09L189.45,137.26L188.89,136.46L188.37,135.72L187.91,135.06L187.53,134.52L187.25,134.11Z" fill="#0a64ff" stroke="none"/>
<path d="M184.90,169.50L200.40,158.30L200.40,177.00L184.90,177.00Z" fill="#00c8ff" stroke="none"/>
<path d="M176.3,70.0C176.2,71.4 176.0,75.5 175.9,78.5C175.8,81.5 175.8,84.9 175.8,88.0C175.8,91.1 175.9,95.5 175.9,97.0" stroke="#0a64ff" stroke-width="8.3" stroke-linecap="butt"/>
<path d="M176.5,52.3C176.5,53.1 176.6,55.4 176.6,57.0C176.6,58.6 176.6,59.4 176.5,62.0C176.4,64.6 176.3,70.8 176.3,72.5" stroke="#0000fa" stroke-width="7.4" stroke-linecap="butt"/>
</g>
</g>
<g clip-path="url(#cb)">
<g transform="translate(1.96,188.37) scale(0.988)" fill="none" stroke-linecap="round" stroke-linejoin="round">
<path d="M4.5,110.0C5.1,110.0 6.8,110.2 8.0,110.3C9.2,110.4 11.3,110.6 12.0,110.7" stroke="#ff6400" stroke-width="3.6"/>
<path d="M1.5,142.0C2.9,142.1 7.2,142.3 10.0,142.6C12.8,142.8 15.3,143.1 18.0,143.5C20.7,143.9 24.7,144.8 26.0,145.0" stroke="#ffc800" stroke-width="4.5"/>
<path d="M32.0,33.5C32.7,34.2 34.7,36.2 36.0,38.0C37.3,39.8 38.7,42.2 40.0,44.0C41.3,45.8 43.0,47.5 44.0,49.0C45.0,50.5 45.7,51.5 46.0,53.0C46.3,54.5 46.1,56.5 46.0,58.0C45.9,59.5 45.6,61.3 45.5,62.0" stroke="#00fc00" stroke-width="5"/>
<path d="M45.5,62.0C44.6,62.8 41.6,65.7 40.0,67.0C38.4,68.3 37.3,68.7 36.0,70.0C34.7,71.3 32.9,73.3 32.0,75.0C31.1,76.7 30.8,78.2 30.5,80.0C30.2,81.8 30.2,84.0 30.5,86.0C30.8,88.0 30.7,90.2 32.0,92.0C33.3,93.8 35.8,95.7 38.1,96.9C40.4,98.1 43.2,98.5 46.0,99.0C48.8,99.5 52.4,99.4 55.0,100.1C57.6,100.8 60.3,102.8 61.4,103.3" stroke="#00fc00" stroke-width="5.0"/>
<path d="M60.4,102.6C61.4,103.3 64.2,105.2 66.5,107.0C68.8,108.8 71.8,111.4 74.2,113.6C76.6,115.8 79.2,118.2 80.8,120.2C82.4,122.2 83.1,123.5 84.0,125.5C84.9,127.5 85.8,129.9 86.3,132.0C86.8,134.1 87.1,136.3 87.3,138.0C87.5,139.7 87.5,141.7 87.6,142.4" stroke="#00fc00" stroke-width="4.7"/>
<path d="M19.0,84.5C20.8,84.5 25.8,84.5 30.0,84.6C34.2,84.7 42.1,84.9 44.5,85.0" stroke="#ffc800" stroke-width="4.8"/>
<path d="M44.5,85.0C46.2,85.2 51.8,85.9 55.0,86.5C58.2,87.1 60.5,87.6 63.5,88.5C66.5,89.4 69.8,90.8 73.0,92.0C76.2,93.2 79.4,94.4 82.7,96.0C86.0,97.6 89.8,99.9 93.0,101.8C96.2,103.7 99.1,105.7 101.6,107.5C104.1,109.3 105.9,110.7 108.0,112.5C110.1,114.3 112.5,116.3 114.3,118.1C116.0,119.8 117.1,121.2 118.5,123.0C119.9,124.8 121.4,126.7 122.8,128.7C124.2,130.7 125.6,132.9 127.0,135.0C128.4,137.1 129.5,139.3 131.2,141.4C132.9,143.5 136.1,146.4 137.1,147.4" stroke="#ffc800" stroke-width="5.0"/>
<path d="M59.5,103.0C59.2,103.8 58.2,106.0 57.8,108.0C57.4,110.0 57.2,112.2 57.0,115.0C56.8,117.8 56.5,120.8 56.6,125.0C56.7,129.2 56.7,135.7 57.7,140.0C58.7,144.3 60.1,148.3 62.4,151.1C64.7,153.9 67.7,155.3 71.7,156.7C75.8,158.1 81.4,158.4 86.7,159.5C92.0,160.6 100.7,162.7 103.5,163.3" stroke="#ccff00" stroke-width="3.8"/>
<path d="M29.6,125.5C30.7,125.2 33.6,124.4 36.0,124.0C38.4,123.6 41.4,123.1 43.7,123.1C46.0,123.1 47.8,123.7 50.0,124.0C52.2,124.3 54.6,124.3 56.8,125.0C59.0,125.7 60.8,126.9 63.0,128.0C65.2,129.1 66.8,129.7 69.8,131.5C72.8,133.3 78.0,137.1 81.0,139.0C84.0,140.9 86.5,142.1 87.6,142.7" stroke="#ccff00" stroke-width="3.8"/>
<path d="M32.5,131.5C33.8,131.8 37.8,132.0 40.0,133.4C42.2,134.8 44.1,137.0 45.6,139.9C47.1,142.8 47.8,147.7 49.3,151.1C50.8,154.5 52.1,157.6 54.9,160.4C57.7,163.2 61.7,166.0 66.1,167.9C70.4,169.8 76.0,171.2 81.0,171.7C86.0,172.2 92.2,171.5 96.0,170.7C99.8,169.9 101.8,168.3 103.5,167.0C105.2,165.7 105.6,163.7 106.0,163.0" stroke="#ffc800" stroke-width="4.2"/>
<path d="M103.5,163.3C104.0,162.4 105.3,159.9 106.4,158.0C107.5,156.1 108.6,155.0 110.2,151.6C111.8,148.2 114.3,141.2 115.9,137.5C117.5,133.8 118.6,131.7 120.0,129.5C121.4,127.3 122.3,126.0 124.5,124.5C126.7,123.0 130.6,121.3 133.0,120.6C135.4,119.9 137.1,120.2 139.0,120.2C140.9,120.2 142.5,120.2 144.3,120.6C146.1,121.0 148.1,121.7 150.0,122.5C151.9,123.3 154.2,124.8 155.7,125.6C157.2,126.4 158.4,126.9 159.0,127.2" stroke="#ffc800" stroke-width="5.8"/>
<path d="M159.0,126.5C159.5,127.1 161.0,128.6 162.1,130.0C163.2,131.4 164.6,133.1 165.4,134.9C166.2,136.7 166.2,138.8 167.0,140.7C167.8,142.6 169.1,144.8 170.3,146.5C171.6,148.2 173.0,149.6 174.5,150.6C176.0,151.6 177.9,152.1 179.4,152.6C180.9,153.1 182.8,153.3 183.5,153.5" stroke="#ffc800" stroke-width="5.2"/>
<path d="M87.77,146.60L88.33,146.56L89.06,146.51L89.93,146.46L90.90,146.39L91.95,146.33L93.04,146.25L94.13,146.18L95.20,146.10L96.26,146.02L97.35,145.92L98.45,145.82L99.57,145.72L100.70,145.62L101.83,145.53L102.96,145.45L104.10,145.39L105.30,145.34L106.54,145.29L107.81,145.25L109.08,145.22L110.34,145.21L111.56,145.21L112.73,145.22L113.82,145.26L114.85,145.33L115.84,145.41L116.81,145.52L117.76,145.64L118.69,145.78L119.63,145.92L120.58,146.07L121.52,146.23L122.46,146.38L123.38,146.54L124.29,146.70L125.18,146.87L126.06,147.04L126.92,147.22L127.74,147.41L128.53,147.59L129.26,147.78L129.96,147.98L130.66,148.19L131.36,148.42L132.08,148.65L132.81,148.89L133.57,149.11L134.35,149.32L135.14,149.50L135.94,149.66L136.73,149.82L137.50,149.95L138.24,150.08L138.91,150.19L139.51,150.29L140.03,150.38L140.48,150.46L140.87,150.53L141.22,150.59L141.51,150.64L141.75,150.68L141.96,150.71L142.12,150.74L142.26,150.76L143.14,145.84L142.98,145.81L142.81,145.78L142.61,145.74L142.38,145.70L142.11,145.65L141.79,145.58L141.42,145.51L140.97,145.42L140.43,145.31L139.82,145.19L139.15,145.06L138.45,144.92L137.73,144.77L137.01,144.62L136.31,144.45L135.65,144.28L135.03,144.10L134.40,143.90L133.74,143.67L133.05,143.43L132.32,143.17L131.55,142.91L130.73,142.65L129.87,142.41L129.00,142.18L128.12,141.97L127.21,141.75L126.29,141.54L125.35,141.34L124.40,141.14L123.44,140.95L122.48,140.77L121.53,140.60L120.57,140.42L119.60,140.24L118.59,140.07L117.55,139.91L116.47,139.76L115.35,139.64L114.18,139.54L112.95,139.46L111.68,139.41L110.37,139.38L109.05,139.36L107.72,139.36L106.41,139.37L105.13,139.39L103.90,139.41L102.67,139.44L101.46,139.49L100.27,139.56L99.10,139.63L97.97,139.71L96.88,139.78L95.82,139.84L94.80,139.90L93.77,139.95L92.69,139.99L91.61,140.04L90.57,140.08L89.60,140.12L88.73,140.15L87.99,140.18L87.43,140.20Z" fill="#66ff00" stroke="none"/>
<path d="M141.49,150.37L141.66,150.47L141.85,150.60L142.11,150.76L142.43,150.96L142.83,151.20L143.31,151.47L143.89,151.79L144.57,152.16L145.36,152.58L146.27,153.08L147.30,153.64L148.42,154.24L149.61,154.86L150.83,155.48L152.07,156.08L153.30,156.64L154.53,157.16L155.78,157.67L157.05,158.16L158.34,158.64L159.64,159.11L160.93,159.57L162.22,160.01L163.49,160.43L164.74,160.84L165.98,161.24L167.22,161.62L168.46,161.99L169.71,162.35L170.99,162.71L172.31,163.05L173.67,163.40L175.17,163.75L176.82,164.11L178.54,164.47L180.25,164.82L181.87,165.14L183.33,165.43L184.55,165.67L185.46,165.85L186.54,160.15L185.62,159.99L184.38,159.77L182.92,159.52L181.30,159.23L179.62,158.93L177.94,158.62L176.35,158.30L174.93,158.00L173.63,157.70L172.37,157.40L171.14,157.09L169.93,156.77L168.73,156.44L167.54,156.10L166.33,155.74L165.11,155.37L163.86,154.98L162.60,154.58L161.34,154.17L160.08,153.74L158.84,153.31L157.62,152.87L156.44,152.42L155.30,151.96L154.17,151.48L153.01,150.95L151.85,150.39L150.70,149.82L149.60,149.26L148.57,148.74L147.64,148.25L146.83,147.84L146.18,147.51L145.66,147.23L145.23,147.00L144.89,146.81L144.61,146.64L144.36,146.49L144.13,146.35L143.91,146.23Z" fill="#ccff00" stroke="none"/>
<path d="M31.0,32.3C32.5,32.3 37.3,32.3 40.0,32.1C42.7,31.9 45.8,31.4 47.0,31.3" stroke="#00ff66" stroke-width="7.2"/>
<path d="M47.0,31.3C47.8,30.3 50.2,27.0 52.0,25.3C53.8,23.6 55.7,22.1 58.0,21.3C60.3,20.5 64.0,20.6 66.0,20.5C68.0,20.4 69.3,20.8 70.0,20.9" stroke="#00ffcc" stroke-width="7.0"/>
<path d="M70.0,20.7C71.1,21.0 74.2,22.0 76.5,22.5C78.8,23.0 81.5,23.4 83.8,23.7C86.0,23.9 88.0,23.9 90.0,24.0C92.0,24.1 93.8,24.4 95.5,24.6C97.2,24.8 98.5,25.0 100.0,25.3C101.5,25.6 103.5,26.1 104.2,26.3" stroke="#00ff66" stroke-width="6"/>
<path d="M104.2,26.3C105.2,25.8 108.0,24.2 110.0,23.5C112.0,22.8 113.5,22.6 116.0,22.2C118.5,21.8 121.5,21.2 124.7,21.4C127.9,21.6 132.1,22.9 135.0,23.5C137.9,24.1 139.5,24.4 142.4,25.0C145.3,25.6 149.4,26.1 152.3,26.8C155.2,27.5 157.5,28.3 159.8,29.2C162.1,30.1 164.2,31.2 165.9,32.3C167.6,33.4 169.1,35.4 169.7,36.0" stroke="#00ffcc" stroke-width="5"/>
<path d="M168.2,34.3C168.6,34.9 169.9,36.9 170.6,38.0C171.2,39.1 171.4,39.5 172.1,41.0C172.8,42.5 173.9,45.4 174.6,47.2C175.3,49.1 176.2,51.3 176.5,52.1" stroke="#00ff66" stroke-width="5.2"/>
<path d="M104.2,26.3C104.9,26.8 106.7,28.3 108.2,29.0C109.7,29.7 111.2,30.1 113.0,30.6C114.8,31.1 116.9,31.5 119.0,32.0C121.1,32.5 123.1,32.8 125.8,33.6C128.5,34.4 131.8,36.4 135.0,37.0C138.2,37.6 141.7,36.9 145.0,37.4C148.3,37.9 152.5,39.1 155.0,40.0C157.5,40.9 158.3,42.0 160.0,43.0C161.7,44.0 163.3,45.3 165.0,46.2C166.7,47.1 168.2,47.7 170.0,48.5C171.8,49.3 175.0,50.6 176.0,51.0" stroke="#00ff66" stroke-width="4.8"/>
<path d="M45.44,33.36L46.00,33.70L46.76,34.18L47.71,34.78L48.77,35.44L49.92,36.12L51.11,36.80L52.31,37.42L53.48,37.94L54.61,38.34L55.69,38.66L56.75,38.92L57.78,39.12L58.78,39.29L59.74,39.43L60.67,39.56L61.59,39.69L62.55,39.82L63.52,39.92L64.46,39.99L65.38,40.06L66.29,40.11L67.18,40.16L68.07,40.21L68.98,40.27L69.93,40.34L70.91,40.41L71.91,40.49L72.91,40.56L73.91,40.63L74.89,40.70L75.84,40.76L76.77,40.83L77.65,40.90L78.51,40.97L79.35,41.04L80.18,41.12L81.01,41.19L81.84,41.26L82.69,41.33L83.57,41.40L84.47,41.47L85.37,41.53L86.27,41.58L87.16,41.64L88.05,41.70L88.92,41.77L89.79,41.85L90.64,41.95L91.50,42.07L92.38,42.20L93.26,42.35L94.17,42.52L95.09,42.68L96.02,42.86L96.97,43.03L97.93,43.20L98.88,43.36L99.84,43.52L100.80,43.68L101.77,43.84L102.73,43.99L103.68,44.15L104.62,44.31L105.56,44.46L106.51,44.61L107.44,44.74L108.34,44.86L109.20,44.97L110.03,45.09L110.81,45.23L111.56,45.38L112.26,45.56L112.97,45.78L113.69,46.04L114.42,46.33L115.16,46.64L115.91,46.98L116.65,47.32L117.38,47.66L118.11,48.00L118.82,48.30L119.48,48.59L120.08,48.84L120.64,49.09L121.15,49.33L121.61,49.57L122.05,49.82L122.46,50.10L122.88,50.42L123.31,50.80L123.75,51.22L124.20,51.68L124.66,52.18L125.14,52.69L125.62,53.23L126.11,53.75L126.59,54.25L127.04,54.73L127.47,55.20L127.90,55.66L128.30,56.11L128.70,56.58L129.08,57.04L129.46,57.53L129.85,58.05L130.23,58.59L130.61,59.14L130.99,59.70L131.36,60.27L131.71,60.85L132.06,61.43L132.39,62.01L132.71,62.59L133.01,63.18L133.30,63.77L133.59,64.38L133.87,64.99L134.14,65.62L134.42,66.27L134.68,66.92L134.95,67.58L135.20,68.27L135.46,68.98L135.71,69.69L135.96,70.42L136.20,71.14L136.43,71.85L136.66,72.55L136.88,73.23L137.09,73.88L137.30,74.51L137.49,75.12L137.67,75.71L137.83,76.29L137.98,76.88L138.11,77.48L138.23,78.08L138.32,78.72L138.41,79.39L138.49,80.09L138.56,80.81L138.64,81.54L138.72,82.28L138.82,83.02L138.92,83.73L139.03,84.41L139.14,85.07L139.25,85.72L139.36,86.35L139.46,86.98L139.55,87.62L139.64,88.27L139.71,88.94L139.77,89.63L139.82,90.36L139.88,91.11L139.93,91.89L140.00,92.68L140.07,93.48L140.17,94.28L140.27,95.06L140.39,95.82L140.51,96.58L140.64,97.33L140.77,98.09L140.91,98.85L141.06,99.63L141.22,100.42L141.37,101.23L141.51,102.09L141.66,103.00L141.83,103.95L142.02,104.93L142.25,105.91L142.53,106.89L142.88,107.85L143.28,108.74L143.73,109.56L144.19,110.31L144.68,111.02L145.18,111.69L145.68,112.34L146.19,112.98L146.70,113.66L147.26,114.39L147.85,115.14L148.46,115.92L149.10,116.70L149.76,117.50L150.44,118.30L151.14,119.10L151.87,119.89L152.63,120.71L153.46,121.56L154.31,122.43L155.18,123.28L156.02,124.10L156.83,124.88L157.57,125.58L158.22,126.19L158.82,126.73L159.38,127.20L159.88,127.61L160.33,127.95L160.72,128.24L161.05,128.48L161.29,128.65L161.49,128.80L164.11,125.40L163.87,125.21L163.58,125.00L163.28,124.77L162.94,124.52L162.57,124.23L162.15,123.89L161.69,123.49L161.18,123.01L160.56,122.43L159.85,121.74L159.08,120.98L158.26,120.17L157.43,119.33L156.62,118.50L155.84,117.68L155.13,116.91L154.47,116.16L153.82,115.40L153.18,114.64L152.56,113.88L151.96,113.13L151.39,112.39L150.83,111.66L150.30,110.94L149.77,110.24L149.26,109.58L148.80,108.97L148.38,108.39L148.01,107.84L147.67,107.29L147.38,106.73L147.12,106.15L146.89,105.50L146.69,104.78L146.52,103.98L146.36,103.13L146.21,102.25L146.07,101.35L145.93,100.45L145.78,99.58L145.63,98.77L145.49,98.01L145.36,97.27L145.24,96.55L145.13,95.84L145.02,95.13L144.92,94.42L144.83,93.72L144.76,93.01L144.70,92.29L144.64,91.55L144.60,90.80L144.55,90.04L144.50,89.27L144.44,88.50L144.36,87.73L144.28,86.99L144.18,86.29L144.08,85.61L143.97,84.94L143.87,84.30L143.77,83.66L143.67,83.02L143.58,82.38L143.51,81.73L143.44,81.04L143.37,80.33L143.30,79.60L143.23,78.84L143.14,78.08L143.02,77.30L142.89,76.52L142.73,75.78L142.56,75.06L142.37,74.37L142.17,73.70L141.97,73.03L141.77,72.38L141.56,71.72L141.34,71.05L141.12,70.35L140.89,69.62L140.65,68.87L140.40,68.11L140.14,67.34L139.88,66.57L139.60,65.82L139.32,65.08L139.03,64.37L138.75,63.67L138.45,62.98L138.15,62.30L137.83,61.61L137.51,60.94L137.17,60.26L136.81,59.59L136.44,58.92L136.05,58.25L135.66,57.60L135.25,56.95L134.83,56.31L134.41,55.68L133.97,55.07L133.54,54.47L133.09,53.88L132.63,53.31L132.18,52.77L131.72,52.24L131.26,51.73L130.80,51.23L130.34,50.74L129.89,50.25L129.43,49.75L128.97,49.23L128.48,48.68L127.96,48.12L127.41,47.55L126.83,46.98L126.20,46.42L125.54,45.90L124.85,45.43L124.17,45.02L123.50,44.66L122.84,44.34L122.19,44.05L121.56,43.77L120.93,43.49L120.29,43.20L119.61,42.89L118.89,42.54L118.12,42.18L117.31,41.81L116.47,41.44L115.59,41.08L114.68,40.74L113.74,40.44L112.78,40.19L111.83,39.98L110.89,39.81L109.97,39.67L109.07,39.54L108.18,39.41L107.31,39.28L106.44,39.14L105.53,38.98L104.59,38.81L103.64,38.65L102.68,38.48L101.72,38.31L100.76,38.14L99.81,37.97L98.87,37.80L97.96,37.64L97.04,37.46L96.11,37.28L95.18,37.10L94.24,36.92L93.29,36.75L92.33,36.59L91.36,36.45L90.39,36.33L89.43,36.23L88.49,36.14L87.56,36.07L86.65,36.00L85.76,35.94L84.89,35.87L84.03,35.80L83.18,35.72L82.35,35.64L81.52,35.56L80.69,35.48L79.86,35.41L79.01,35.33L78.14,35.25L77.23,35.17L76.29,35.09L75.33,35.00L74.34,34.92L73.34,34.84L72.34,34.76L71.35,34.69L70.38,34.61L69.42,34.53L68.47,34.45L67.54,34.39L66.64,34.33L65.77,34.27L64.92,34.20L64.08,34.12L63.26,34.03L62.41,33.91L61.50,33.77L60.60,33.64L59.72,33.50L58.87,33.35L58.04,33.18L57.24,32.98L56.47,32.74L55.72,32.46L54.91,32.09L53.96,31.59L52.94,31.00L51.90,30.36L50.90,29.73L49.98,29.13L49.18,28.62L48.56,28.24Z" fill="#ccff00" stroke="none"/>
<path d="M69.4,19.5C69.4,20.8 69.1,25.1 69.4,27.4C69.8,29.7 70.5,31.8 71.5,33.5C72.5,35.2 74.8,37.0 75.5,37.7" stroke="#00ffcc" stroke-width="5.2"/>
<path d="M75.0,37.7C76.5,38.7 80.9,41.4 83.8,43.6C86.7,45.8 90.2,48.8 92.6,50.9C95.0,53.0 96.5,54.1 98.0,56.0C99.5,57.9 101.0,61.0 101.6,62.0" stroke="#00ffcc" stroke-width="4.8"/>
<path d="M101.0,61.0C101.1,62.1 100.8,65.3 101.4,67.6C102.1,69.8 103.2,72.2 104.9,74.5C106.6,76.8 109.2,79.4 111.7,81.4C114.2,83.5 117.5,85.0 120.0,86.8C122.5,88.6 124.8,90.2 126.8,92.3C128.8,94.4 130.9,97.4 132.3,99.2C133.7,101.0 134.6,102.6 135.1,103.3" stroke="#00ffcc" stroke-width="4.4"/>
<path d="M100.7,59.8C101.6,60.7 103.9,63.7 106.2,65.3C108.5,66.9 111.3,68.4 114.5,69.4C117.7,70.4 121.6,70.9 125.5,71.4C129.4,71.9 134.6,71.9 138.0,72.2C141.4,72.5 143.4,72.6 146.0,73.0C148.6,73.4 150.9,74.2 153.8,74.8C156.7,75.4 160.4,75.8 163.5,76.8C166.6,77.8 171.0,79.9 172.5,80.5" stroke="#00ff66" stroke-width="4.3"/>
<path d="M44.5,84.0C45.1,83.1 46.8,79.9 48.0,78.5C49.2,77.1 50.4,76.8 51.9,75.6C53.4,74.4 55.1,72.6 57.0,71.5C58.9,70.4 61.3,69.5 63.5,68.8C65.7,68.1 67.8,67.5 70.0,67.2C72.2,66.9 74.7,66.8 76.9,66.8C79.1,66.8 81.1,67.0 83.0,67.5C84.9,68.0 86.9,68.6 88.5,69.5C90.1,70.4 91.4,71.8 92.5,73.0C93.6,74.2 94.4,75.5 95.2,77.0C96.0,78.5 96.7,80.4 97.5,82.0C98.3,83.6 99.1,84.9 100.0,86.5C100.9,88.1 101.8,90.0 103.0,91.5C104.2,93.0 105.1,94.2 107.0,95.5C108.9,96.8 111.5,98.0 114.3,99.0C117.1,100.0 120.8,100.8 124.0,101.5C127.2,102.2 131.2,103.0 133.4,103.3C135.6,103.6 136.4,103.5 137.0,103.5" stroke="#ff6400" stroke-width="4.3"/>
<path d="M134.0,103.6C135.4,103.7 139.3,103.8 142.4,104.2C145.5,104.6 149.7,105.3 152.3,106.1C154.9,106.9 157.1,108.5 158.0,109.0" stroke="#66ff00" stroke-width="5.2"/>
<path d="M158.0,109.0C159.3,109.7 163.6,111.8 165.9,112.9C168.2,114.0 170.2,114.7 172.0,115.4C173.8,116.1 176.2,116.7 177.0,117.0" stroke="#00fc00" stroke-width="5.2"/>
<path d="M169.7,36.5C170.4,35.8 172.3,33.8 174.0,32.5C175.7,31.2 177.6,30.1 180.1,28.6C182.6,27.1 185.9,24.8 189.2,23.5C192.5,22.2 196.5,21.3 199.8,21.0C203.1,20.7 205.9,20.9 208.9,21.6C211.9,22.3 215.0,23.7 218.0,25.3C221.0,26.9 224.2,29.1 227.0,31.4C229.8,33.7 232.3,36.6 234.6,39.2C236.9,41.8 238.7,44.3 240.6,46.8C242.5,49.3 244.0,51.6 246.0,54.0C248.0,56.4 250.4,58.3 252.7,61.1C255.0,63.9 257.6,68.0 259.6,71.0C261.7,74.0 263.6,77.1 265.0,79.3C266.4,81.5 267.5,83.2 268.0,84.0" stroke="#00fc00" stroke-width="5.2"/>
<path d="M264.46,84.00L264.59,84.42L264.77,84.98L264.97,85.63L265.20,86.36L265.44,87.14L265.69,87.94L265.93,88.73L266.17,89.52L266.43,90.32L266.69,91.10L266.95,91.84L267.20,92.56L267.42,93.27L267.62,94.00L267.80,94.77L267.96,95.61L268.10,96.60L268.24,97.74L268.35,98.98L268.46,100.28L268.55,101.60L268.63,102.89L268.70,104.12L268.76,105.24L268.81,106.24L268.85,107.13L268.88,107.95L268.89,108.73L268.90,109.49L268.89,110.26L268.87,111.06L268.85,111.92L268.81,112.84L268.76,113.78L268.70,114.74L268.63,115.71L268.55,116.69L268.46,117.67L268.36,118.64L268.25,119.59L268.11,120.58L267.95,121.65L267.76,122.77L267.57,123.90L267.38,124.96L267.21,125.93L267.06,126.76L266.95,127.39L274.65,128.61L274.74,128.00L274.86,127.19L275.00,126.21L275.17,125.10L275.33,123.93L275.49,122.72L275.64,121.53L275.75,120.41L275.84,119.35L275.92,118.29L275.99,117.22L276.04,116.17L276.09,115.12L276.12,114.08L276.14,113.06L276.15,112.08L276.15,111.14L276.14,110.24L276.13,109.38L276.09,108.52L276.05,107.65L275.99,106.75L275.92,105.79L275.84,104.76L275.74,103.62L275.63,102.36L275.51,101.03L275.37,99.66L275.21,98.27L275.04,96.91L274.85,95.61L274.64,94.39L274.39,93.26L274.11,92.21L273.81,91.26L273.50,90.38L273.21,89.58L272.92,88.85L272.67,88.16L272.43,87.48L272.17,86.72L271.90,85.92L271.62,85.11L271.35,84.33L271.10,83.60L270.87,82.95L270.68,82.41L270.54,82.00Z" fill="#00fc00" stroke="none"/>
<path d="M271.1,124.5C271.0,125.2 270.9,127.1 270.6,129.0C270.3,130.9 269.8,133.6 269.5,136.0C269.2,138.4 268.9,141.2 268.6,143.5C268.4,145.8 268.1,147.8 268.0,150.0C267.9,152.2 267.8,154.3 267.8,157.0C267.8,159.7 267.9,162.7 268.0,166.0C268.1,169.3 268.2,175.2 268.2,177.0" stroke="#66ff00" stroke-width="7.8" stroke-linecap="butt"/>
<path d="M178.0,57.5C179.2,57.3 182.1,57.2 185.0,56.3C187.9,55.4 192.3,53.4 195.3,52.3C198.3,51.2 200.5,50.4 203.0,49.5C205.5,48.6 208.4,47.8 210.4,47.2C212.4,46.7 213.7,46.5 215.0,46.2C216.3,45.9 216.2,45.7 218.0,45.5C219.8,45.3 222.5,44.8 225.5,44.8C228.5,44.8 233.5,45.0 236.1,45.3C238.7,45.6 240.2,46.3 241.0,46.5" stroke="#00ff66" stroke-width="4.3"/>
<path d="M178.0,68.8C179.2,68.5 182.7,67.4 185.0,66.8C187.3,66.2 189.5,65.8 192.0,65.3C194.5,64.8 197.3,64.4 200.0,64.0C202.7,63.6 205.5,63.2 208.0,63.0C210.5,62.8 212.2,62.8 215.0,62.6C217.8,62.4 221.6,62.2 225.0,62.0C228.4,61.8 231.1,61.7 235.3,61.6C239.5,61.5 247.1,61.5 250.0,61.4C252.9,61.3 252.5,61.2 253.0,61.2" stroke="#00fc00" stroke-width="4.3"/>
<path d="M283.3,56.0C282.7,55.9 280.6,55.7 279.5,55.6C278.4,55.5 277.5,54.8 276.5,55.2C275.5,55.6 274.4,56.6 273.5,57.8C272.6,59.0 272.0,60.8 271.3,62.5C270.6,64.2 270.1,66.3 269.3,68.0C268.5,69.7 267.8,71.0 266.5,72.5C265.2,74.0 263.3,76.1 261.8,77.1C260.3,78.1 259.8,78.3 257.4,78.7C255.0,79.1 251.0,79.1 247.5,79.3C244.0,79.5 239.2,79.5 236.5,79.8C233.8,80.1 233.8,80.9 231.0,81.2C228.2,81.5 223.3,81.5 220.0,81.8C216.7,82.1 214.3,82.6 211.0,83.1C207.7,83.6 203.3,84.4 200.0,85.0C196.7,85.6 193.5,85.8 191.0,86.5C188.5,87.2 186.8,88.5 185.0,89.5C183.2,90.5 180.8,92.2 180.0,92.7" stroke="#ccff00" stroke-width="4.2"/>
<path d="M231.0,81.5C231.9,82.0 234.3,83.3 236.5,84.2C238.7,85.1 241.8,86.0 244.2,87.0C246.6,88.0 248.8,89.0 250.8,90.3C252.8,91.6 254.5,93.5 256.3,94.7C258.1,95.9 259.8,96.8 261.8,97.4C263.8,98.0 266.7,98.2 268.4,98.5C270.1,98.8 271.4,99.3 272.0,99.5" stroke="#ccff00" stroke-width="4.3"/>
<path d="M214.0,63.0C213.4,64.3 211.4,68.3 210.5,71.0C209.6,73.7 209.0,76.2 208.5,79.0C208.0,81.8 207.7,85.2 207.3,88.0C206.9,90.8 206.5,93.3 206.0,96.0C205.5,98.7 204.9,101.3 204.5,104.0C204.1,106.7 203.8,108.6 203.5,112.0C203.2,115.4 202.6,122.4 202.4,124.5" stroke="#00fc00" stroke-width="4.3"/>
<path d="M176.0,59.5C174.6,60.2 169.9,62.0 167.7,64.0C165.5,66.0 164.0,69.0 162.9,71.7C161.8,74.4 161.2,77.4 161.0,80.4C160.8,83.5 161.7,86.8 161.9,90.0C162.1,93.2 162.5,96.9 162.2,99.9C161.9,102.9 160.6,106.6 160.3,107.9" stroke="#00ff66" stroke-width="4.3"/>
<path d="M180.0,93.5C181.7,94.1 186.4,95.8 190.0,97.0C193.6,98.2 198.1,99.9 201.4,101.0C204.7,102.1 206.8,102.8 210.0,103.8C213.2,104.8 218.7,106.3 220.4,106.8" stroke="#ffc800" stroke-width="4.2"/>
<path d="M220.4,106.8C222.0,107.1 227.2,108.0 230.0,108.5C232.8,109.0 234.9,109.3 237.4,109.8C239.9,110.2 242.5,110.6 245.0,111.2C247.5,111.8 249.6,112.5 252.2,113.5C254.8,114.5 258.2,116.2 260.3,117.5C262.4,118.8 263.5,120.2 265.0,121.5C266.5,122.8 268.4,124.8 269.1,125.5" stroke="#ccff00" stroke-width="4.3"/>
<path d="M221.5,107.0C221.7,108.2 222.2,111.8 222.4,114.0C222.6,116.2 222.7,118.2 222.8,120.0C222.9,121.8 222.9,123.3 223.2,125.0C223.5,126.7 223.7,128.5 224.4,130.0C225.1,131.5 226.1,132.7 227.3,134.1C228.5,135.5 229.9,136.8 231.4,138.2C232.9,139.6 235.0,141.2 236.4,142.3C237.8,143.4 239.1,144.1 240.0,144.8C240.9,145.5 241.7,146.2 242.0,146.5" stroke="#ff6400" stroke-width="4.3"/>
<path d="M254.3,122.3C254.9,121.5 256.6,118.9 258.0,117.5C259.4,116.1 261.1,114.9 262.8,113.9C264.5,112.9 266.2,112.1 268.0,111.5C269.8,110.9 271.0,110.7 273.4,110.5C275.8,110.3 281.0,110.3 282.5,110.3" stroke="#ff6400" stroke-width="4.3"/>
<path d="M209.8,157.5C210.5,156.4 212.3,152.9 214.0,150.7C215.7,148.5 218.0,145.9 219.7,144.1C221.3,142.3 222.8,140.9 223.9,140.0C225.0,139.1 225.1,139.3 226.5,138.6C227.9,137.9 230.1,136.6 232.3,135.7C234.6,134.8 237.8,134.0 240.0,133.2C242.2,132.4 244.0,131.8 245.8,130.8C247.6,129.8 249.6,128.4 251.0,127.0C252.4,125.6 253.8,123.1 254.3,122.3" stroke="#ff6400" stroke-width="4.3"/>
<path d="M186.6,130.8C187.8,130.2 191.5,128.6 194.0,127.5C196.5,126.5 199.4,124.7 201.4,124.5C203.4,124.3 204.6,125.6 206.0,126.5C207.4,127.4 208.5,128.8 210.0,129.9C211.5,131.0 213.3,131.8 215.0,133.2C216.7,134.6 218.3,136.5 219.9,138.2C221.5,139.8 223.2,141.7 224.8,143.1C226.5,144.5 228.2,145.7 229.8,146.4C231.5,147.2 232.8,147.3 234.7,147.6C236.5,147.9 239.0,147.7 240.9,148.4C242.8,149.1 244.0,150.9 245.9,151.9C247.8,152.9 250.4,153.8 252.5,154.4C254.6,155.0 256.3,155.3 258.2,155.6C260.1,155.9 262.5,156.2 264.0,156.4C265.5,156.6 266.5,156.5 267.0,156.5" stroke="#ffc800" stroke-width="4.3"/>
<path d="M199.52,164.24L200.02,164.05L200.69,163.78L201.48,163.47L202.36,163.13L203.26,162.77L204.16,162.42L205.00,162.10L205.73,161.83L206.40,161.58L207.09,161.34L207.77,161.10L208.44,160.88L209.06,160.68L209.61,160.49L210.09,160.34L210.45,160.22L209.15,155.18L208.78,155.25L208.30,155.34L207.72,155.45L207.06,155.57L206.35,155.70L205.60,155.85L204.84,156.01L204.07,156.17L203.26,156.36L202.35,156.57L201.39,156.80L200.43,157.04L199.51,157.26L198.68,157.46L197.99,157.63L197.48,157.76Z" fill="#ff6400" stroke="none"/>
<path d="M209.8,157.7C210.8,158.0 213.2,158.8 215.6,159.4C217.9,160.0 221.2,161.0 223.9,161.4C226.7,161.8 230.1,161.9 232.1,161.8C234.1,161.7 234.6,161.3 236.0,160.8C237.4,160.3 238.8,159.7 240.5,158.8C242.2,157.9 244.2,156.4 245.9,155.2C247.6,154.0 249.2,152.7 250.8,151.5C252.5,150.3 254.2,149.2 255.8,148.2C257.4,147.2 259.1,146.1 260.7,145.3C262.3,144.5 263.8,144.0 265.7,143.6C267.6,143.2 269.2,142.9 272.0,142.8C274.8,142.7 280.8,142.8 282.5,142.8" stroke="#ffc800" stroke-width="4.4"/>
<path d="M21.0,13.5C21.0,14.6 21.2,17.1 21.0,20.0C20.8,22.9 20.4,27.3 19.6,31.0C18.9,34.7 17.2,39.2 16.5,42.0C15.8,44.8 15.4,45.8 15.2,47.5C14.9,49.2 15.0,51.2 15.0,52.0" stroke="#66ff00" stroke-width="7.5" stroke-linecap="butt"/>
<path d="M9.87,84.00L9.78,84.85L9.65,86.01L9.49,87.40L9.32,88.93L9.14,90.50L8.98,92.02L8.83,93.40L8.72,94.50L8.63,95.21L8.55,95.69L8.46,96.17L8.35,96.80L8.25,97.64L8.22,98.60L8.26,99.62L8.36,100.67L8.50,101.77L8.66,102.97L8.87,104.27L9.12,105.68L9.43,107.17L9.81,108.72L10.27,110.32L10.83,111.97L11.49,113.64L12.24,115.31L13.03,116.96L13.85,118.58L14.67,120.16L15.46,121.68L16.18,123.13L16.84,124.50L17.46,125.87L18.07,127.24L18.67,128.60L19.25,129.95L19.84,131.31L20.42,132.67L21.01,134.04L21.61,135.44L22.24,136.87L22.88,138.29L23.51,139.67L24.12,141.03L24.70,142.35L25.24,143.63L25.73,144.87L26.17,146.09L26.58,147.32L26.96,148.59L27.32,149.88L27.66,151.18L27.99,152.50L28.30,153.83L28.61,155.16L28.91,156.47L29.19,157.74L29.46,158.94L29.70,160.09L29.92,161.22L30.12,162.34L30.31,163.47L30.48,164.64L30.64,165.84L30.78,167.19L30.90,168.73L31.02,170.40L31.12,172.10L31.21,173.74L31.29,175.24L31.36,176.53L31.42,177.49L44.58,176.51L44.50,175.59L44.40,174.35L44.27,172.84L44.13,171.15L43.96,169.36L43.78,167.55L43.58,165.79L43.36,164.16L43.13,162.68L42.88,161.30L42.62,159.96L42.34,158.66L42.05,157.38L41.75,156.11L41.43,154.83L41.09,153.53L40.75,152.19L40.39,150.81L40.00,149.39L39.60,147.94L39.16,146.46L38.69,144.96L38.18,143.44L37.63,141.91L37.02,140.38L36.37,138.87L35.70,137.40L35.02,135.97L34.34,134.58L33.67,133.21L33.02,131.88L32.39,130.56L31.77,129.23L31.14,127.88L30.52,126.53L29.88,125.17L29.24,123.80L28.57,122.40L27.89,120.98L27.16,119.50L26.36,117.94L25.51,116.37L24.65,114.81L23.81,113.30L23.01,111.84L22.29,110.45L21.67,109.18L21.17,108.03L20.76,106.92L20.39,105.76L20.07,104.60L19.79,103.44L19.55,102.32L19.35,101.24L19.18,100.22L19.04,99.33L18.96,98.72L18.94,98.45L18.93,98.36L18.94,98.27L18.99,97.95L19.08,97.35L19.19,96.50L19.28,95.50L19.37,94.35L19.47,93.01L19.59,91.50L19.72,89.94L19.84,88.42L19.96,87.02L20.06,85.85L20.13,85.00Z" fill="#66ff00" stroke="none"/>
<path d="M16.2,49.0C16.2,50.5 16.1,55.2 16.0,58.0C15.9,60.8 15.6,63.0 15.4,66.0C15.2,69.0 15.1,72.8 15.0,76.0C14.9,79.2 15.0,83.5 15.0,85.0" stroke="#66ff00" stroke-width="10.2" stroke-linecap="butt"/>
<path d="M32.0,31.8C31.2,32.0 28.8,32.4 27.5,33.0C26.2,33.6 25.5,34.1 24.3,35.4C23.1,36.7 21.3,38.9 20.4,40.9C19.5,42.9 19.1,45.8 18.7,47.5C18.3,49.2 18.3,50.4 18.2,51.0" stroke="#00fc00" stroke-width="7.0"/>
<path d="M0.5,56.3C1.2,56.4 3.6,56.7 5.0,57.0C6.4,57.3 7.5,57.5 9.0,58.0C10.5,58.5 12.2,59.5 14.0,60.2C15.8,60.9 17.9,62.1 19.7,62.3C21.5,62.5 23.2,61.8 25.0,61.6C26.8,61.4 27.9,61.2 30.3,61.2C32.7,61.2 36.8,61.6 39.3,61.8C41.8,62.0 44.5,62.5 45.5,62.6" stroke="#ccff00" stroke-width="3.6"/>
<path d="M171.60,96.08L171.59,96.34L171.58,96.68L171.57,97.10L171.55,97.60L171.54,98.17L171.53,98.80L171.53,99.49L171.53,100.23L171.54,101.02L171.55,101.90L171.57,102.85L171.59,103.84L171.61,104.86L171.64,105.88L171.67,106.90L171.71,107.88L171.74,108.83L171.78,109.75L171.83,110.66L171.87,111.57L171.92,112.49L171.97,113.44L172.02,114.44L172.08,115.48L172.13,116.61L172.18,117.83L172.23,119.14L172.29,120.50L172.35,121.89L172.44,123.26L172.55,124.61L172.68,125.90L172.85,127.08L173.04,128.19L173.24,129.22L173.46,130.19L173.68,131.11L173.90,131.99L174.12,132.84L174.35,133.74L174.63,134.77L174.95,135.88L175.28,137.01L175.61,138.11L175.92,139.14L176.20,140.06L176.43,140.81L176.60,141.36L188.40,137.24L188.17,136.66L187.86,135.91L187.51,135.03L187.12,134.07L186.72,133.06L186.32,132.07L185.96,131.13L185.65,130.26L185.35,129.42L185.06,128.61L184.80,127.86L184.56,127.15L184.33,126.44L184.12,125.72L183.91,124.95L183.72,124.10L183.52,123.14L183.34,122.04L183.15,120.83L182.98,119.56L182.81,118.26L182.64,116.96L182.48,115.70L182.32,114.52L182.17,113.45L182.03,112.46L181.89,111.52L181.77,110.62L181.64,109.75L181.53,108.88L181.41,108.01L181.29,107.12L181.18,106.18L181.06,105.20L180.95,104.21L180.84,103.23L180.73,102.27L180.63,101.36L180.55,100.52L180.47,99.77L180.41,99.12L180.36,98.52L180.32,97.97L180.29,97.46L180.26,97.00L180.24,96.59L180.22,96.23L180.20,95.92Z" fill="#00fc00" stroke="none"/>
<path d="M176.75,140.89L177.01,141.33L177.37,141.92L177.78,142.60L178.23,143.35L178.69,144.13L179.15,144.91L179.57,145.64L179.94,146.31L180.29,146.96L180.64,147.62L180.98,148.27L181.31,148.92L181.63,149.55L181.93,150.18L182.21,150.79L182.49,151.42L182.76,152.05L183.03,152.69L183.28,153.29L183.51,153.88L183.72,154.45L183.91,155.01L184.09,155.56L184.25,156.12L184.40,156.70L184.55,157.31L184.69,157.93L184.81,158.55L184.93,159.19L185.03,159.81L185.11,160.44L185.18,161.03L185.23,161.60L185.27,162.17L185.29,162.76L185.30,163.39L185.31,164.06L185.31,164.75L185.31,165.48L185.31,166.20L185.30,166.92L185.28,167.68L185.25,168.50L185.21,169.32L185.18,170.11L185.15,170.84L185.12,171.47L185.10,171.96L200.10,172.04L200.09,171.60L200.07,171.00L200.06,170.26L200.04,169.43L200.01,168.53L199.98,167.60L199.94,166.67L199.89,165.80L199.84,165.02L199.79,164.25L199.74,163.44L199.67,162.61L199.59,161.74L199.49,160.83L199.37,159.90L199.22,158.97L199.05,158.05L198.86,157.16L198.65,156.27L198.43,155.38L198.18,154.50L197.92,153.62L197.65,152.75L197.35,151.88L197.03,151.02L196.69,150.17L196.35,149.35L195.99,148.55L195.63,147.79L195.26,147.04L194.89,146.31L194.51,145.58L194.11,144.83L193.70,144.07L193.27,143.32L192.84,142.58L192.40,141.85L191.96,141.13L191.52,140.42L191.06,139.69L190.55,138.91L190.01,138.09L189.45,137.26L188.89,136.46L188.37,135.72L187.91,135.06L187.53,134.52L187.25,134.11Z" fill="#66ff00" stroke="none"/>
<path d="M185.40,157.10L200.30,168.00L200.30,177.00L185.40,177.00Z" fill="#ccff00" stroke="none"/>
<path d="M176.3,70.0C176.2,71.4 176.0,75.5 175.9,78.5C175.8,81.5 175.8,84.9 175.8,88.0C175.8,91.1 175.9,95.5 175.9,97.0" stroke="#00ff66" stroke-width="8.3" stroke-linecap="butt"/>
<path d="M176.5,52.3C176.5,53.1 176.6,55.4 176.6,57.0C176.6,58.6 176.6,59.4 176.5,62.0C176.4,64.6 176.3,70.8 176.3,72.5" stroke="#00ff66" stroke-width="7.4" stroke-linecap="butt"/>
</g>
</g>
<g font-family="Liberation Sans, sans-serif" font-size="14" fill="#111">
<text x="127" y="13.3" textLength="57" lengthAdjust="spacing">(a) P-BC</text>
<text x="123.2" y="204.7" textLength="61.5" lengthAdjust="spacing">(b) Q-BC</text>
</g>
<rect x="293.7" y="117.40" width="19.8" height="8.20" fill="#ff0000"/>
<rect x="293.7" y="125.60" width="19.8" height="15.80" fill="#ff6a00"/>
<rect x="293.7" y="141.40" width="19.8" height="15.50" fill="#ffcc00"/>
<rect x="293.7" y="156.90" width="19.8" height="15.60" fill="#ccff00"/>
<rect x="293.7" y="172.50" width="19.8" height="15.80" fill="#66f000"/>
<rect x="293.7" y="188.30" width="19.8" height="15.90" fill="#00f000"/>
<rect x="293.7" y="204.20" width="19.8" height="15.70" fill="#00ff66"/>
<rect x="293.7" y="219.90" width="19.8" height="15.70" fill="#00ffcc"/>
<rect x="293.7" y="235.60" width="19.8" height="16.00" fill="#00ccff"/>
<rect x="293.7" y="251.60" width="19.8" height="15.70" fill="#0066ff"/>
<rect x="293.7" y="267.30" width="19.8" height="7.70" fill="#0000ff"/>
<line x1="293.7" x2="313.5" y1="125.60" y2="125.60" stroke="#333" stroke-width="1"/>
<line x1="293.7" x2="313.5" y1="141.40" y2="141.40" stroke="#333" stroke-width="1"/>
<line x1="293.7" x2="313.5" y1="156.90" y2="156.90" stroke="#333" stroke-width="1"/>
<line x1="293.7" x2="313.5" y1="172.50" y2="172.50" stroke="#333" stroke-width="1"/>
<line x1="293.7" x2="313.5" y1="188.30" y2="188.30" stroke="#333" stroke-width="1"/>
<line x1="293.7" x2="313.5" y1="204.20" y2="204.20" stroke="#333" stroke-width="1"/>
<line x1="293.7" x2="313.5" y1="219.90" y2="219.90" stroke="#333" stroke-width="1"/>
<line x1="293.7" x2="313.5" y1="235.60" y2="235.60" stroke="#333" stroke-width="1"/>
<line x1="293.7" x2="313.5" y1="251.60" y2="251.60" stroke="#333" stroke-width="1"/>
<line x1="293.7" x2="313.5" y1="267.30" y2="267.30" stroke="#333" stroke-width="1"/>
<rect x="293.7" y="117.4" width="19.8" height="157.60" fill="none" stroke="#555" stroke-width="0.9"/>
<g font-family="Liberation Sans, sans-serif" font-size="14" fill="#111">
<text x="322.2" y="133.00">15</text>
<text x="322.2" y="148.80">10</text>
<text x="322.2" y="164.30">5</text>
<text x="322.2" y="179.90">0</text>
<text x="316.8" y="195.70">-5</text>
<text x="316.8" y="211.60">-10</text>
<text x="316.8" y="227.30">-15</text>
<text x="316.8" y="243.00">-20</text>
<text x="316.8" y="259.00">-25</text>
<text x="316.8" y="274.70">-30</text>
</g>
<text x="296" y="109.2" font-family="Liberation Sans, sans-serif" font-size="15.5" fill="#111" textLength="39.5" lengthAdjust="spacing">ΔQ %</text>
<path d="M415.70,291.50h3.6M415.70,282.50h3.6M415.70,273.50h6M415.70,265.50h3.6M415.70,256.50h3.6M415.70,248.50h3.6M415.70,239.50h3.6M415.70,230.50h6M415.70,222.50h3.6M415.70,213.50h3.6M415.70,204.50h3.6M415.70,196.50h3.6M415.70,187.50h6M415.70,179.50h3.6M415.70,170.50h3.6M415.70,161.50h3.6M415.70,153.50h3.6M415.70,144.50h6M415.70,135.50h3.6M415.70,127.50h3.6M415.70,118.50h3.6M415.70,110.50h3.6M415.70,101.50h6M415.70,92.50h3.6M415.70,84.50h3.6M415.70,75.50h3.6M415.70,66.50h3.6M415.70,58.50h6M415.70,49.50h3.6M415.70,41.50h3.6M415.50,295.50v-6M427.50,295.50v-3.6M439.50,295.50v-3.6M451.50,295.50v-3.6M463.50,295.50v-3.6M475.50,295.50v-6M487.50,295.50v-3.6M498.50,295.50v-3.6M510.50,295.50v-3.6M522.50,295.50v-3.6M534.50,295.50v-6M546.50,295.50v-3.6M558.50,295.50v-3.6M570.50,295.50v-3.6M582.50,295.50v-3.6M593.50,295.50v-6M605.50,295.50v-3.6M617.50,295.50v-3.6M629.50,295.50v-3.6M641.50,295.50v-3.6M653.50,295.50v-6M665.50,295.50v-3.6M677.50,295.50v-3.6" stroke="#111" stroke-width="1" fill="none"/>
<rect x="424.70" y="80.00" width="5.6" height="5.6" fill="#00cc00"/><rect x="460.45" y="85.20" width="5.6" height="5.6" fill="#00cc00"/><rect x="424.70" y="96.10" width="5.6" height="5.6" fill="#00cc00"/><rect x="439.60" y="100.10" width="5.6" height="5.6" fill="#00cc00"/><rect x="418.50" y="106.80" width="5.6" height="5.6" fill="#00cc00"/><rect x="424.70" y="108.30" width="5.6" height="5.6" fill="#00cc00"/><rect x="471.70" y="111.30" width="5.6" height="5.6" fill="#00cc00"/><rect x="484.20" y="110.60" width="5.6" height="5.6" fill="#00cc00"/><rect x="460.45" y="118.45" width="5.6" height="5.6" fill="#00cc00"/><rect x="466.30" y="119.30" width="5.6" height="5.6" fill="#00cc00"/><rect x="424.70" y="125.20" width="5.6" height="5.6" fill="#00cc00"/><rect x="436.50" y="129.20" width="5.6" height="5.6" fill="#00cc00"/><rect x="430.60" y="136.70" width="5.6" height="5.6" fill="#00cc00"/><rect x="424.70" y="138.10" width="5.6" height="5.6" fill="#00cc00"/><rect x="466.30" y="143.10" width="5.6" height="5.6" fill="#00cc00"/><rect x="460.45" y="140.70" width="5.6" height="5.6" fill="#00cc00"/><rect x="471.70" y="161.70" width="5.6" height="5.6" fill="#00cc00"/><rect x="471.70" y="165.70" width="5.6" height="5.6" fill="#00cc00"/><rect x="436.00" y="170.20" width="5.6" height="5.6" fill="#00cc00"/><rect x="430.60" y="175.80" width="5.6" height="5.6" fill="#00cc00"/><rect x="448.50" y="181.50" width="5.6" height="5.6" fill="#00cc00"/><rect x="436.50" y="187.20" width="5.6" height="5.6" fill="#00cc00"/><rect x="430.60" y="194.30" width="5.6" height="5.6" fill="#00cc00"/><rect x="436.50" y="199.00" width="5.6" height="5.6" fill="#00cc00"/><rect x="471.70" y="199.30" width="5.6" height="5.6" fill="#00cc00"/><rect x="460.45" y="204.70" width="5.6" height="5.6" fill="#00cc00"/><rect x="430.60" y="209.70" width="5.6" height="5.6" fill="#00cc00"/><rect x="436.50" y="210.20" width="5.6" height="5.6" fill="#00cc00"/><rect x="454.40" y="209.30" width="5.6" height="5.6" fill="#00cc00"/><rect x="508.30" y="130.20" width="5.6" height="5.6" fill="#00cc00"/><rect x="478.30" y="136.30" width="5.6" height="5.6" fill="#00cc00"/><rect x="502.00" y="141.30" width="5.6" height="5.6" fill="#00cc00"/><rect x="490.10" y="162.00" width="5.6" height="5.6" fill="#00cc00"/><rect x="484.20" y="174.00" width="5.6" height="5.6" fill="#00cc00"/><rect x="496.10" y="169.90" width="5.6" height="5.6" fill="#00cc00"/><rect x="520.20" y="182.60" width="5.6" height="5.6" fill="#00cc00"/><rect x="502.00" y="188.30" width="5.6" height="5.6" fill="#00cc00"/><rect x="496.10" y="194.90" width="5.6" height="5.6" fill="#00cc00"/><rect x="508.30" y="194.50" width="5.6" height="5.6" fill="#00cc00"/><rect x="484.20" y="197.70" width="5.6" height="5.6" fill="#00cc00"/><rect x="488.60" y="207.00" width="5.6" height="5.6" fill="#00cc00"/><rect x="565.20" y="145.60" width="5.6" height="5.6" fill="#00cc00"/><rect x="561.50" y="149.80" width="5.6" height="5.6" fill="#00cc00"/><rect x="555.50" y="157.00" width="5.6" height="5.6" fill="#00cc00"/><rect x="549.40" y="162.70" width="5.6" height="5.6" fill="#00cc00"/><rect x="549.40" y="167.70" width="5.6" height="5.6" fill="#00cc00"/><rect x="591.10" y="161.00" width="5.6" height="5.6" fill="#00cc00"/><rect x="579.00" y="168.00" width="5.6" height="5.6" fill="#00cc00"/><rect x="609.20" y="152.00" width="5.6" height="5.6" fill="#00cc00"/><rect x="639.20" y="143.40" width="5.6" height="5.6" fill="#00cc00"/>
<rect x="430.60" y="166.70" width="5.6" height="5.6" fill="#2222ff"/><rect x="424.70" y="189.20" width="5.6" height="5.6" fill="#2222ff"/><rect x="448.50" y="198.45" width="5.6" height="5.6" fill="#2222ff"/><rect x="460.45" y="199.30" width="5.6" height="5.6" fill="#2222ff"/><rect x="466.30" y="197.20" width="5.6" height="5.6" fill="#2222ff"/><rect x="419.00" y="203.45" width="5.6" height="5.6" fill="#2222ff"/><rect x="424.70" y="203.45" width="5.6" height="5.6" fill="#2222ff"/><rect x="424.70" y="209.30" width="5.6" height="5.6" fill="#2222ff"/><rect x="430.60" y="214.30" width="5.6" height="5.6" fill="#2222ff"/><rect x="460.45" y="209.00" width="5.6" height="5.6" fill="#2222ff"/><rect x="466.30" y="207.00" width="5.6" height="5.6" fill="#2222ff"/><rect x="424.70" y="218.60" width="5.6" height="5.6" fill="#2222ff"/><rect x="440.10" y="222.20" width="5.6" height="5.6" fill="#2222ff"/><rect x="460.45" y="224.00" width="5.6" height="5.6" fill="#2222ff"/><rect x="448.50" y="230.20" width="5.6" height="5.6" fill="#2222ff"/><rect x="439.00" y="232.60" width="5.6" height="5.6" fill="#2222ff"/><rect x="436.50" y="238.20" width="5.6" height="5.6" fill="#2222ff"/><rect x="453.30" y="241.80" width="5.6" height="5.6" fill="#2222ff"/><rect x="460.45" y="239.30" width="5.6" height="5.6" fill="#2222ff"/><rect x="471.70" y="234.70" width="5.6" height="5.6" fill="#2222ff"/><rect x="471.70" y="240.20" width="5.6" height="5.6" fill="#2222ff"/><rect x="430.60" y="249.00" width="5.6" height="5.6" fill="#2222ff"/><rect x="436.50" y="247.70" width="5.6" height="5.6" fill="#2222ff"/><rect x="424.70" y="256.10" width="5.6" height="5.6" fill="#2222ff"/><rect x="471.70" y="258.45" width="5.6" height="5.6" fill="#2222ff"/><rect x="436.50" y="269.30" width="5.6" height="5.6" fill="#2222ff"/><rect x="430.60" y="275.10" width="5.6" height="5.6" fill="#2222ff"/><rect x="454.40" y="273.30" width="5.6" height="5.6" fill="#2222ff"/><rect x="436.50" y="279.20" width="5.6" height="5.6" fill="#2222ff"/><rect x="436.50" y="283.20" width="5.6" height="5.6" fill="#2222ff"/><rect x="460.45" y="280.10" width="5.6" height="5.6" fill="#2222ff"/><rect x="478.30" y="209.70" width="5.6" height="5.6" fill="#2222ff"/><rect x="484.20" y="239.20" width="5.6" height="5.6" fill="#2222ff"/><rect x="484.20" y="243.70" width="5.6" height="5.6" fill="#2222ff"/><rect x="490.10" y="237.60" width="5.6" height="5.6" fill="#2222ff"/><rect x="502.00" y="237.90" width="5.6" height="5.6" fill="#2222ff"/><rect x="508.30" y="230.40" width="5.6" height="5.6" fill="#2222ff"/><rect x="496.10" y="260.20" width="5.6" height="5.6" fill="#2222ff"/><rect x="496.10" y="264.20" width="5.6" height="5.6" fill="#2222ff"/><rect x="508.30" y="264.50" width="5.6" height="5.6" fill="#2222ff"/><rect x="520.20" y="259.00" width="5.6" height="5.6" fill="#2222ff"/><rect x="484.20" y="275.10" width="5.6" height="5.6" fill="#2222ff"/><rect x="488.60" y="277.20" width="5.6" height="5.6" fill="#2222ff"/><rect x="502.00" y="278.10" width="5.6" height="5.6" fill="#2222ff"/><rect x="549.50" y="249.20" width="5.6" height="5.6" fill="#2222ff"/><rect x="549.50" y="252.70" width="5.6" height="5.6" fill="#2222ff"/><rect x="555.60" y="248.70" width="5.6" height="5.6" fill="#2222ff"/><rect x="561.90" y="245.70" width="5.6" height="5.6" fill="#2222ff"/><rect x="565.00" y="243.40" width="5.6" height="5.6" fill="#2222ff"/><rect x="567.80" y="240.60" width="5.6" height="5.6" fill="#2222ff"/><rect x="579.40" y="252.90" width="5.6" height="5.6" fill="#2222ff"/><rect x="591.10" y="251.10" width="5.6" height="5.6" fill="#2222ff"/><rect x="609.30" y="251.10" width="5.6" height="5.6" fill="#2222ff"/><rect x="639.00" y="240.60" width="5.6" height="5.6" fill="#2222ff"/>
<rect x="460.45" y="55.20" width="5.6" height="5.6" fill="#cc0000"/><rect x="466.30" y="70.20" width="5.6" height="5.6" fill="#cc0000"/><rect x="436.50" y="73.70" width="5.6" height="5.6" fill="#cc0000"/><rect x="448.50" y="79.10" width="5.6" height="5.6" fill="#cc0000"/><rect x="460.45" y="79.10" width="5.6" height="5.6" fill="#cc0000"/><rect x="436.50" y="85.90" width="5.6" height="5.6" fill="#cc0000"/><rect x="424.70" y="89.80" width="5.6" height="5.6" fill="#cc0000"/><rect x="484.20" y="87.30" width="5.6" height="5.6" fill="#cc0000"/><rect x="496.10" y="102.40" width="5.6" height="5.6" fill="#cc0000"/><rect x="424.70" y="116.10" width="5.6" height="5.6" fill="#cc0000"/><rect x="436.50" y="119.70" width="5.6" height="5.6" fill="#cc0000"/><rect x="442.60" y="120.80" width="5.6" height="5.6" fill="#cc0000"/><rect x="430.60" y="125.20" width="5.6" height="5.6" fill="#cc0000"/><rect x="436.50" y="130.95" width="5.6" height="5.6" fill="#cc0000"/><rect x="454.40" y="130.95" width="5.6" height="5.6" fill="#cc0000"/><rect x="424.70" y="132.70" width="5.6" height="5.6" fill="#cc0000"/><rect x="460.45" y="138.20" width="5.6" height="5.6" fill="#cc0000"/><rect x="424.70" y="143.10" width="5.6" height="5.6" fill="#cc0000"/><rect x="448.50" y="145.20" width="5.6" height="5.6" fill="#cc0000"/><rect x="436.50" y="147.60" width="5.6" height="5.6" fill="#cc0000"/><rect x="424.70" y="151.00" width="5.6" height="5.6" fill="#cc0000"/><rect x="436.50" y="154.30" width="5.6" height="5.6" fill="#cc0000"/><rect x="430.60" y="159.20" width="5.6" height="5.6" fill="#cc0000"/><rect x="460.45" y="164.00" width="5.6" height="5.6" fill="#cc0000"/><rect x="471.70" y="171.10" width="5.6" height="5.6" fill="#cc0000"/><rect x="436.00" y="172.90" width="5.6" height="5.6" fill="#cc0000"/><rect x="436.50" y="180.10" width="5.6" height="5.6" fill="#cc0000"/><rect x="454.40" y="181.50" width="5.6" height="5.6" fill="#cc0000"/><rect x="454.40" y="192.20" width="5.6" height="5.6" fill="#cc0000"/><rect x="424.70" y="233.45" width="5.6" height="5.6" fill="#cc0000"/><rect x="508.30" y="119.90" width="5.6" height="5.6" fill="#cc0000"/><rect x="520.20" y="119.70" width="5.6" height="5.6" fill="#cc0000"/><rect x="520.20" y="125.20" width="5.6" height="5.6" fill="#cc0000"/><rect x="508.30" y="140.80" width="5.6" height="5.6" fill="#cc0000"/><rect x="502.00" y="145.40" width="5.6" height="5.6" fill="#cc0000"/><rect x="520.20" y="145.80" width="5.6" height="5.6" fill="#cc0000"/><rect x="484.20" y="151.10" width="5.6" height="5.6" fill="#cc0000"/><rect x="508.30" y="150.80" width="5.6" height="5.6" fill="#cc0000"/><rect x="478.30" y="158.20" width="5.6" height="5.6" fill="#cc0000"/><rect x="478.30" y="163.20" width="5.6" height="5.6" fill="#cc0000"/><rect x="502.00" y="166.80" width="5.6" height="5.6" fill="#cc0000"/><rect x="543.40" y="125.80" width="5.6" height="5.6" fill="#cc0000"/><rect x="537.70" y="147.60" width="5.6" height="5.6" fill="#cc0000"/><rect x="555.50" y="139.20" width="5.6" height="5.6" fill="#cc0000"/><rect x="555.50" y="145.20" width="5.6" height="5.6" fill="#cc0000"/><rect x="567.60" y="140.10" width="5.6" height="5.6" fill="#cc0000"/><rect x="579.00" y="137.20" width="5.6" height="5.6" fill="#cc0000"/><rect x="591.10" y="137.90" width="5.6" height="5.6" fill="#cc0000"/><rect x="602.80" y="142.20" width="5.6" height="5.6" fill="#cc0000"/><rect x="615.30" y="141.00" width="5.6" height="5.6" fill="#cc0000"/><rect x="627.10" y="139.30" width="5.6" height="5.6" fill="#cc0000"/><rect x="639.20" y="140.20" width="5.6" height="5.6" fill="#cc0000"/><rect x="651.00" y="141.50" width="5.6" height="5.6" fill="#cc0000"/>
<rect x="415.70" y="36.70" width="261.50" height="258.80" fill="none" stroke="#111" stroke-width="1.5" stroke-linejoin="round"/>
<rect x="594" y="40" width="91" height="46" fill="#fff"/>
<rect x="556.90" y="48.20" width="5.6" height="5.6" fill="#00cc00"/>
<rect x="556.90" y="62.60" width="5.6" height="5.6" fill="#2222ff"/>
<rect x="556.90" y="77.30" width="5.6" height="5.6" fill="#cc0000"/>
<g font-family="Liberation Serif, serif" font-size="12.5" fill="#111">
<text x="597" y="55">Network 1, Q-BC</text>
<text x="597" y="69.5">Network 1, P-BC</text>
<text x="597" y="84">Network 2, Q-BC</text>
</g>
<g font-family="Liberation Sans, sans-serif" font-size="12.3" fill="#222" text-anchor="end" letter-spacing="0.6">
<text x="413" y="278.53">-30</text>
<text x="413" y="235.40">-20</text>
<text x="413" y="192.27">-10</text>
<text x="413" y="149.13">0</text>
<text x="413" y="106.00">10</text>
<text x="413" y="62.87">20</text>
</g>
<g font-family="Liberation Sans, sans-serif" font-size="12.2" fill="#222" text-anchor="middle" letter-spacing="1.5">
<text x="416.90" y="307.8">5</text>
<text x="476.33" y="307.8">10</text>
<text x="535.76" y="307.8">15</text>
<text x="595.20" y="307.8">20</text>
<text x="654.63" y="307.8">25</text>
</g>
<text x="546" y="325.6" font-family="Liberation Serif, serif" font-size="17" fill="#111" text-anchor="middle">D(μm)</text>
<text transform="translate(389,163) rotate(-90)" font-family="Liberation Serif, serif" font-size="15.5" fill="#111" text-anchor="middle">ΔQ (%)</text>
<text x="559.7" y="28.3" font-family="Liberation Sans, sans-serif" font-size="17" fill="#111" text-anchor="middle">(c)</text>
</svg>
</body></html>
